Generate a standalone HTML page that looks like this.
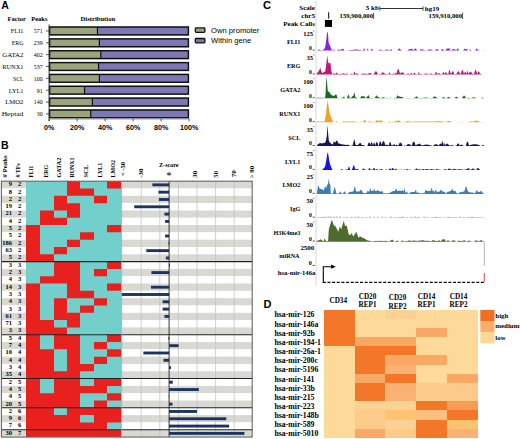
<!DOCTYPE html>
<html><head><meta charset="utf-8"><style>
html,body{margin:0;padding:0;background:#fff;width:520px;height:439px;overflow:hidden}
svg{display:block}

</style></head><body>
<svg width="520" height="439" viewBox="0 0 520 439">
<rect width="520" height="439" fill="#fff"/>
<text x="1.30" y="9.20" font-size="10.5" text-anchor="start" font-weight="bold" font-family="'Liberation Sans', sans-serif" fill="#000" >A</text><text x="7.60" y="21.00" font-size="6.5" text-anchor="start" font-weight="bold" font-family="'Liberation Serif', serif" fill="#000" >Factor</text><text x="31.20" y="21.00" font-size="6.5" text-anchor="start" font-weight="bold" font-family="'Liberation Serif', serif" fill="#000" >Peaks</text><text x="80.50" y="21.00" font-size="6.65" text-anchor="start" font-weight="bold" font-family="'Liberation Serif', serif" fill="#000" >Distribution</text><text x="23.40" y="33.25" font-size="6.6" text-anchor="end" font-weight="normal" font-family="'Liberation Serif', serif" fill="#000" textLength="12.55" lengthAdjust="spacingAndGlyphs">FLI1</text><text x="42.60" y="33.25" font-size="6.6" text-anchor="end" font-weight="normal" font-family="'Liberation Serif', serif" fill="#000" textLength="8.85" lengthAdjust="spacingAndGlyphs">571</text><line x1="46.00" y1="30.95" x2="49.00" y2="30.95" stroke="#333" stroke-width="0.8" /><rect x="49.00" y="26.45" width="48.44" height="9.00" fill="#9ca47d" /><rect x="97.44" y="26.45" width="91.56" height="9.00" fill="#7b78b3" /><rect x="49.60" y="27.05" width="138.80" height="7.8" fill="none" stroke="#111" stroke-width="1.45"/><line x1="97.44" y1="27.05" x2="97.44" y2="34.85" stroke="#111" stroke-width="1.2" /><text x="23.40" y="45.10" font-size="6.6" text-anchor="end" font-weight="normal" font-family="'Liberation Serif', serif" fill="#000" textLength="11.70" lengthAdjust="spacingAndGlyphs">ERG</text><text x="42.60" y="45.10" font-size="6.6" text-anchor="end" font-weight="normal" font-family="'Liberation Serif', serif" fill="#000" textLength="8.85" lengthAdjust="spacingAndGlyphs">239</text><line x1="46.00" y1="42.80" x2="49.00" y2="42.80" stroke="#333" stroke-width="0.8" /><rect x="49.00" y="38.30" width="50.40" height="9.00" fill="#9ca47d" /><rect x="99.40" y="38.30" width="89.60" height="9.00" fill="#7b78b3" /><rect x="49.60" y="38.90" width="138.80" height="7.8" fill="none" stroke="#111" stroke-width="1.45"/><line x1="99.40" y1="38.90" x2="99.40" y2="46.70" stroke="#111" stroke-width="1.2" /><text x="23.40" y="56.95" font-size="6.6" text-anchor="end" font-weight="normal" font-family="'Liberation Serif', serif" fill="#000" textLength="21.10" lengthAdjust="spacingAndGlyphs">GATA2</text><text x="42.60" y="56.95" font-size="6.6" text-anchor="end" font-weight="normal" font-family="'Liberation Serif', serif" fill="#000" textLength="8.85" lengthAdjust="spacingAndGlyphs">402</text><line x1="46.00" y1="54.65" x2="49.00" y2="54.65" stroke="#333" stroke-width="0.8" /><rect x="49.00" y="50.15" width="51.80" height="9.00" fill="#9ca47d" /><rect x="100.80" y="50.15" width="88.20" height="9.00" fill="#7b78b3" /><rect x="49.60" y="50.75" width="138.80" height="7.8" fill="none" stroke="#111" stroke-width="1.45"/><line x1="100.80" y1="50.75" x2="100.80" y2="58.55" stroke="#111" stroke-width="1.2" /><text x="23.40" y="68.80" font-size="6.6" text-anchor="end" font-weight="normal" font-family="'Liberation Serif', serif" fill="#000" textLength="21.10" lengthAdjust="spacingAndGlyphs">RUNX1</text><text x="42.60" y="68.80" font-size="6.6" text-anchor="end" font-weight="normal" font-family="'Liberation Serif', serif" fill="#000" textLength="8.85" lengthAdjust="spacingAndGlyphs">537</text><line x1="46.00" y1="66.50" x2="49.00" y2="66.50" stroke="#333" stroke-width="0.8" /><rect x="49.00" y="62.00" width="49.56" height="9.00" fill="#9ca47d" /><rect x="98.56" y="62.00" width="90.44" height="9.00" fill="#7b78b3" /><rect x="49.60" y="62.60" width="138.80" height="7.8" fill="none" stroke="#111" stroke-width="1.45"/><line x1="98.56" y1="62.60" x2="98.56" y2="70.40" stroke="#111" stroke-width="1.2" /><text x="23.40" y="80.65" font-size="6.6" text-anchor="end" font-weight="normal" font-family="'Liberation Serif', serif" fill="#000" textLength="10.40" lengthAdjust="spacingAndGlyphs">SCL</text><text x="42.60" y="80.65" font-size="6.6" text-anchor="end" font-weight="normal" font-family="'Liberation Serif', serif" fill="#000" textLength="8.85" lengthAdjust="spacingAndGlyphs">100</text><line x1="46.00" y1="78.35" x2="49.00" y2="78.35" stroke="#333" stroke-width="0.8" /><rect x="49.00" y="73.85" width="50.40" height="9.00" fill="#9ca47d" /><rect x="99.40" y="73.85" width="89.60" height="9.00" fill="#7b78b3" /><rect x="49.60" y="74.45" width="138.80" height="7.8" fill="none" stroke="#111" stroke-width="1.45"/><line x1="99.40" y1="74.45" x2="99.40" y2="82.25" stroke="#111" stroke-width="1.2" /><text x="23.40" y="92.50" font-size="6.6" text-anchor="end" font-weight="normal" font-family="'Liberation Serif', serif" fill="#000" textLength="14.70" lengthAdjust="spacingAndGlyphs">LYL1</text><text x="42.60" y="92.50" font-size="6.6" text-anchor="end" font-weight="normal" font-family="'Liberation Serif', serif" fill="#000" textLength="5.90" lengthAdjust="spacingAndGlyphs">91</text><line x1="46.00" y1="90.20" x2="49.00" y2="90.20" stroke="#333" stroke-width="0.8" /><rect x="49.00" y="85.70" width="35.56" height="9.00" fill="#9ca47d" /><rect x="84.56" y="85.70" width="104.44" height="9.00" fill="#7b78b3" /><rect x="49.60" y="86.30" width="138.80" height="7.8" fill="none" stroke="#111" stroke-width="1.45"/><line x1="84.56" y1="86.30" x2="84.56" y2="94.10" stroke="#111" stroke-width="1.2" /><text x="23.40" y="104.35" font-size="6.6" text-anchor="end" font-weight="normal" font-family="'Liberation Serif', serif" fill="#000" textLength="18.10" lengthAdjust="spacingAndGlyphs">LMO2</text><text x="42.60" y="104.35" font-size="6.6" text-anchor="end" font-weight="normal" font-family="'Liberation Serif', serif" fill="#000" textLength="8.85" lengthAdjust="spacingAndGlyphs">140</text><line x1="46.00" y1="102.05" x2="49.00" y2="102.05" stroke="#333" stroke-width="0.8" /><rect x="49.00" y="97.55" width="43.40" height="9.00" fill="#9ca47d" /><rect x="92.40" y="97.55" width="96.60" height="9.00" fill="#7b78b3" /><rect x="49.60" y="98.15" width="138.80" height="7.8" fill="none" stroke="#111" stroke-width="1.45"/><line x1="92.40" y1="98.15" x2="92.40" y2="105.95" stroke="#111" stroke-width="1.2" /><text x="23.40" y="116.20" font-size="6.6" text-anchor="end" font-weight="normal" font-family="'Liberation Serif', serif" fill="#000" textLength="21.70" lengthAdjust="spacingAndGlyphs">Heptad</text><text x="42.60" y="116.20" font-size="6.6" text-anchor="end" font-weight="normal" font-family="'Liberation Serif', serif" fill="#000" textLength="5.90" lengthAdjust="spacingAndGlyphs">30</text><line x1="46.00" y1="113.90" x2="49.00" y2="113.90" stroke="#333" stroke-width="0.8" /><rect x="49.00" y="109.40" width="41.72" height="9.00" fill="#9ca47d" /><rect x="90.72" y="109.40" width="98.28" height="9.00" fill="#7b78b3" /><rect x="49.60" y="110.00" width="138.80" height="7.8" fill="none" stroke="#111" stroke-width="1.45"/><line x1="90.72" y1="110.00" x2="90.72" y2="117.80" stroke="#111" stroke-width="1.2" /><line x1="49.10" y1="24.50" x2="49.10" y2="121.00" stroke="#333" stroke-width="1.0" /><line x1="49.10" y1="118.80" x2="189.00" y2="118.80" stroke="#999" stroke-width="1.3" /><line x1="49.10" y1="118.80" x2="49.10" y2="121.30" stroke="#444" stroke-width="0.9" /><text x="49.10" y="129.60" font-size="7.2" text-anchor="middle" font-weight="bold" font-family="'Liberation Sans', sans-serif" fill="#000" >0%</text><line x1="77.10" y1="118.80" x2="77.10" y2="121.30" stroke="#444" stroke-width="0.9" /><text x="77.10" y="129.60" font-size="7.2" text-anchor="middle" font-weight="bold" font-family="'Liberation Sans', sans-serif" fill="#000" >20%</text><line x1="105.10" y1="118.80" x2="105.10" y2="121.30" stroke="#444" stroke-width="0.9" /><text x="105.10" y="129.60" font-size="7.2" text-anchor="middle" font-weight="bold" font-family="'Liberation Sans', sans-serif" fill="#000" >40%</text><line x1="133.10" y1="118.80" x2="133.10" y2="121.30" stroke="#444" stroke-width="0.9" /><text x="133.10" y="129.60" font-size="7.2" text-anchor="middle" font-weight="bold" font-family="'Liberation Sans', sans-serif" fill="#000" >60%</text><line x1="161.10" y1="118.80" x2="161.10" y2="121.30" stroke="#444" stroke-width="0.9" /><text x="161.10" y="129.60" font-size="7.2" text-anchor="middle" font-weight="bold" font-family="'Liberation Sans', sans-serif" fill="#000" >80%</text><line x1="189.10" y1="118.80" x2="189.10" y2="121.30" stroke="#444" stroke-width="0.9" /><text x="189.10" y="129.60" font-size="7.2" text-anchor="middle" font-weight="bold" font-family="'Liberation Sans', sans-serif" fill="#000" >100%</text><rect x="195.30" y="27.90" width="9.60" height="4.40" fill="#9ca47d" stroke="#111" stroke-width="1.3" rx="0.8"/><rect x="195.30" y="38.50" width="9.60" height="4.40" fill="#7b78b3" stroke="#111" stroke-width="1.3" rx="0.8"/><text x="211.00" y="33.10" font-size="7.65" text-anchor="start" font-weight="normal" font-family="'Liberation Sans', sans-serif" fill="#000" >Own promoter</text><text x="211.00" y="42.90" font-size="7.65" text-anchor="start" font-weight="normal" font-family="'Liberation Sans', sans-serif" fill="#000" >Within gene</text><text x="1.00" y="148.70" font-size="10.6" text-anchor="start" font-weight="bold" font-family="'Liberation Sans', sans-serif" fill="#000" >B</text><rect x="1.50" y="181.20" width="24.60" height="7.31" fill="#d9d9d3" /><rect x="121.60" y="181.20" width="130.60" height="7.31" fill="#d9d9d3" /><text x="12.00" y="186.25" font-size="6.5" text-anchor="end" font-weight="bold" font-family="'Liberation Serif', serif" fill="#000" >9</text><text x="19.50" y="186.25" font-size="6.5" text-anchor="middle" font-weight="bold" font-family="'Liberation Serif', serif" fill="#000" >2</text><rect x="1.50" y="188.51" width="24.60" height="7.31" fill="#ffffff" /><rect x="121.60" y="188.51" width="130.60" height="7.31" fill="#ffffff" /><text x="12.00" y="193.56" font-size="6.5" text-anchor="end" font-weight="bold" font-family="'Liberation Serif', serif" fill="#000" >8</text><text x="19.50" y="193.56" font-size="6.5" text-anchor="middle" font-weight="bold" font-family="'Liberation Serif', serif" fill="#000" >2</text><rect x="1.50" y="195.82" width="24.60" height="7.31" fill="#d9d9d3" /><rect x="121.60" y="195.82" width="130.60" height="7.31" fill="#d9d9d3" /><text x="12.00" y="200.87" font-size="6.5" text-anchor="end" font-weight="bold" font-family="'Liberation Serif', serif" fill="#000" >2</text><text x="19.50" y="200.87" font-size="6.5" text-anchor="middle" font-weight="bold" font-family="'Liberation Serif', serif" fill="#000" >2</text><rect x="1.50" y="203.13" width="24.60" height="7.31" fill="#ffffff" /><rect x="121.60" y="203.13" width="130.60" height="7.31" fill="#ffffff" /><text x="12.00" y="208.18" font-size="6.5" text-anchor="end" font-weight="bold" font-family="'Liberation Serif', serif" fill="#000" >19</text><text x="19.50" y="208.18" font-size="6.5" text-anchor="middle" font-weight="bold" font-family="'Liberation Serif', serif" fill="#000" >2</text><rect x="1.50" y="210.44" width="24.60" height="7.31" fill="#d9d9d3" /><rect x="121.60" y="210.44" width="130.60" height="7.31" fill="#d9d9d3" /><text x="12.00" y="215.49" font-size="6.5" text-anchor="end" font-weight="bold" font-family="'Liberation Serif', serif" fill="#000" >21</text><text x="19.50" y="215.49" font-size="6.5" text-anchor="middle" font-weight="bold" font-family="'Liberation Serif', serif" fill="#000" >2</text><rect x="1.50" y="217.75" width="24.60" height="7.31" fill="#ffffff" /><rect x="121.60" y="217.75" width="130.60" height="7.31" fill="#ffffff" /><text x="12.00" y="222.80" font-size="6.5" text-anchor="end" font-weight="bold" font-family="'Liberation Serif', serif" fill="#000" >4</text><text x="19.50" y="222.80" font-size="6.5" text-anchor="middle" font-weight="bold" font-family="'Liberation Serif', serif" fill="#000" >2</text><rect x="1.50" y="225.06" width="24.60" height="7.31" fill="#d9d9d3" /><rect x="121.60" y="225.06" width="130.60" height="7.31" fill="#d9d9d3" /><text x="12.00" y="230.11" font-size="6.5" text-anchor="end" font-weight="bold" font-family="'Liberation Serif', serif" fill="#000" >5</text><text x="19.50" y="230.11" font-size="6.5" text-anchor="middle" font-weight="bold" font-family="'Liberation Serif', serif" fill="#000" >2</text><rect x="1.50" y="232.37" width="24.60" height="7.31" fill="#ffffff" /><rect x="121.60" y="232.37" width="130.60" height="7.31" fill="#ffffff" /><text x="12.00" y="237.42" font-size="6.5" text-anchor="end" font-weight="bold" font-family="'Liberation Serif', serif" fill="#000" >5</text><text x="19.50" y="237.42" font-size="6.5" text-anchor="middle" font-weight="bold" font-family="'Liberation Serif', serif" fill="#000" >2</text><rect x="1.50" y="239.68" width="24.60" height="7.31" fill="#d9d9d3" /><rect x="121.60" y="239.68" width="130.60" height="7.31" fill="#d9d9d3" /><text x="12.00" y="244.73" font-size="6.5" text-anchor="end" font-weight="bold" font-family="'Liberation Serif', serif" fill="#000" >186</text><text x="19.50" y="244.73" font-size="6.5" text-anchor="middle" font-weight="bold" font-family="'Liberation Serif', serif" fill="#000" >2</text><rect x="1.50" y="246.99" width="24.60" height="7.31" fill="#ffffff" /><rect x="121.60" y="246.99" width="130.60" height="7.31" fill="#ffffff" /><text x="12.00" y="252.04" font-size="6.5" text-anchor="end" font-weight="bold" font-family="'Liberation Serif', serif" fill="#000" >63</text><text x="19.50" y="252.04" font-size="6.5" text-anchor="middle" font-weight="bold" font-family="'Liberation Serif', serif" fill="#000" >2</text><rect x="1.50" y="254.30" width="24.60" height="7.31" fill="#d9d9d3" /><rect x="121.60" y="254.30" width="130.60" height="7.31" fill="#d9d9d3" /><text x="12.00" y="259.35" font-size="6.5" text-anchor="end" font-weight="bold" font-family="'Liberation Serif', serif" fill="#000" >5</text><text x="19.50" y="259.35" font-size="6.5" text-anchor="middle" font-weight="bold" font-family="'Liberation Serif', serif" fill="#000" >2</text><rect x="1.50" y="261.61" width="24.60" height="7.31" fill="#ffffff" /><rect x="121.60" y="261.61" width="130.60" height="7.31" fill="#ffffff" /><text x="12.00" y="266.66" font-size="6.5" text-anchor="end" font-weight="bold" font-family="'Liberation Serif', serif" fill="#000" >3</text><text x="19.50" y="266.66" font-size="6.5" text-anchor="middle" font-weight="bold" font-family="'Liberation Serif', serif" fill="#000" >3</text><rect x="1.50" y="268.92" width="24.60" height="7.31" fill="#d9d9d3" /><rect x="121.60" y="268.92" width="130.60" height="7.31" fill="#d9d9d3" /><text x="12.00" y="273.97" font-size="6.5" text-anchor="end" font-weight="bold" font-family="'Liberation Serif', serif" fill="#000" >2</text><text x="19.50" y="273.97" font-size="6.5" text-anchor="middle" font-weight="bold" font-family="'Liberation Serif', serif" fill="#000" >3</text><rect x="1.50" y="276.23" width="24.60" height="7.31" fill="#ffffff" /><rect x="121.60" y="276.23" width="130.60" height="7.31" fill="#ffffff" /><text x="12.00" y="281.28" font-size="6.5" text-anchor="end" font-weight="bold" font-family="'Liberation Serif', serif" fill="#000" >4</text><text x="19.50" y="281.28" font-size="6.5" text-anchor="middle" font-weight="bold" font-family="'Liberation Serif', serif" fill="#000" >3</text><rect x="1.50" y="283.54" width="24.60" height="7.31" fill="#d9d9d3" /><rect x="121.60" y="283.54" width="130.60" height="7.31" fill="#d9d9d3" /><text x="12.00" y="288.59" font-size="6.5" text-anchor="end" font-weight="bold" font-family="'Liberation Serif', serif" fill="#000" >14</text><text x="19.50" y="288.59" font-size="6.5" text-anchor="middle" font-weight="bold" font-family="'Liberation Serif', serif" fill="#000" >3</text><rect x="1.50" y="290.85" width="24.60" height="7.31" fill="#ffffff" /><rect x="121.60" y="290.85" width="130.60" height="7.31" fill="#ffffff" /><text x="12.00" y="295.90" font-size="6.5" text-anchor="end" font-weight="bold" font-family="'Liberation Serif', serif" fill="#000" >3</text><text x="19.50" y="295.90" font-size="6.5" text-anchor="middle" font-weight="bold" font-family="'Liberation Serif', serif" fill="#000" >3</text><rect x="1.50" y="298.16" width="24.60" height="7.31" fill="#d9d9d3" /><rect x="121.60" y="298.16" width="130.60" height="7.31" fill="#d9d9d3" /><text x="12.00" y="303.21" font-size="6.5" text-anchor="end" font-weight="bold" font-family="'Liberation Serif', serif" fill="#000" >4</text><text x="19.50" y="303.21" font-size="6.5" text-anchor="middle" font-weight="bold" font-family="'Liberation Serif', serif" fill="#000" >3</text><rect x="1.50" y="305.47" width="24.60" height="7.31" fill="#ffffff" /><rect x="121.60" y="305.47" width="130.60" height="7.31" fill="#ffffff" /><text x="12.00" y="310.52" font-size="6.5" text-anchor="end" font-weight="bold" font-family="'Liberation Serif', serif" fill="#000" >3</text><text x="19.50" y="310.52" font-size="6.5" text-anchor="middle" font-weight="bold" font-family="'Liberation Serif', serif" fill="#000" >3</text><rect x="1.50" y="312.78" width="24.60" height="7.31" fill="#d9d9d3" /><rect x="121.60" y="312.78" width="130.60" height="7.31" fill="#d9d9d3" /><text x="12.00" y="317.83" font-size="6.5" text-anchor="end" font-weight="bold" font-family="'Liberation Serif', serif" fill="#000" >61</text><text x="19.50" y="317.83" font-size="6.5" text-anchor="middle" font-weight="bold" font-family="'Liberation Serif', serif" fill="#000" >3</text><rect x="1.50" y="320.09" width="24.60" height="7.31" fill="#ffffff" /><rect x="121.60" y="320.09" width="130.60" height="7.31" fill="#ffffff" /><text x="12.00" y="325.14" font-size="6.5" text-anchor="end" font-weight="bold" font-family="'Liberation Serif', serif" fill="#000" >71</text><text x="19.50" y="325.14" font-size="6.5" text-anchor="middle" font-weight="bold" font-family="'Liberation Serif', serif" fill="#000" >3</text><rect x="1.50" y="327.40" width="24.60" height="7.31" fill="#d9d9d3" /><rect x="121.60" y="327.40" width="130.60" height="7.31" fill="#d9d9d3" /><text x="12.00" y="332.45" font-size="6.5" text-anchor="end" font-weight="bold" font-family="'Liberation Serif', serif" fill="#000" >3</text><text x="19.50" y="332.45" font-size="6.5" text-anchor="middle" font-weight="bold" font-family="'Liberation Serif', serif" fill="#000" >3</text><rect x="1.50" y="334.71" width="24.60" height="7.31" fill="#ffffff" /><rect x="121.60" y="334.71" width="130.60" height="7.31" fill="#ffffff" /><text x="12.00" y="339.76" font-size="6.5" text-anchor="end" font-weight="bold" font-family="'Liberation Serif', serif" fill="#000" >5</text><text x="19.50" y="339.76" font-size="6.5" text-anchor="middle" font-weight="bold" font-family="'Liberation Serif', serif" fill="#000" >4</text><rect x="1.50" y="342.02" width="24.60" height="7.31" fill="#d9d9d3" /><rect x="121.60" y="342.02" width="130.60" height="7.31" fill="#d9d9d3" /><text x="12.00" y="347.07" font-size="6.5" text-anchor="end" font-weight="bold" font-family="'Liberation Serif', serif" fill="#000" >7</text><text x="19.50" y="347.07" font-size="6.5" text-anchor="middle" font-weight="bold" font-family="'Liberation Serif', serif" fill="#000" >4</text><rect x="1.50" y="349.33" width="24.60" height="7.31" fill="#ffffff" /><rect x="121.60" y="349.33" width="130.60" height="7.31" fill="#ffffff" /><text x="12.00" y="354.38" font-size="6.5" text-anchor="end" font-weight="bold" font-family="'Liberation Serif', serif" fill="#000" >10</text><text x="19.50" y="354.38" font-size="6.5" text-anchor="middle" font-weight="bold" font-family="'Liberation Serif', serif" fill="#000" >4</text><rect x="1.50" y="356.64" width="24.60" height="7.31" fill="#d9d9d3" /><rect x="121.60" y="356.64" width="130.60" height="7.31" fill="#d9d9d3" /><text x="12.00" y="361.69" font-size="6.5" text-anchor="end" font-weight="bold" font-family="'Liberation Serif', serif" fill="#000" >4</text><text x="19.50" y="361.69" font-size="6.5" text-anchor="middle" font-weight="bold" font-family="'Liberation Serif', serif" fill="#000" >4</text><rect x="1.50" y="363.95" width="24.60" height="7.31" fill="#ffffff" /><rect x="121.60" y="363.95" width="130.60" height="7.31" fill="#ffffff" /><text x="12.00" y="369.00" font-size="6.5" text-anchor="end" font-weight="bold" font-family="'Liberation Serif', serif" fill="#000" >3</text><text x="19.50" y="369.00" font-size="6.5" text-anchor="middle" font-weight="bold" font-family="'Liberation Serif', serif" fill="#000" >4</text><rect x="1.50" y="371.26" width="24.60" height="7.31" fill="#d9d9d3" /><rect x="121.60" y="371.26" width="130.60" height="7.31" fill="#d9d9d3" /><text x="12.00" y="376.31" font-size="6.5" text-anchor="end" font-weight="bold" font-family="'Liberation Serif', serif" fill="#000" >35</text><text x="19.50" y="376.31" font-size="6.5" text-anchor="middle" font-weight="bold" font-family="'Liberation Serif', serif" fill="#000" >4</text><rect x="1.50" y="378.57" width="24.60" height="7.31" fill="#ffffff" /><rect x="121.60" y="378.57" width="130.60" height="7.31" fill="#ffffff" /><text x="12.00" y="383.62" font-size="6.5" text-anchor="end" font-weight="bold" font-family="'Liberation Serif', serif" fill="#000" >2</text><text x="19.50" y="383.62" font-size="6.5" text-anchor="middle" font-weight="bold" font-family="'Liberation Serif', serif" fill="#000" >5</text><rect x="1.50" y="385.88" width="24.60" height="7.31" fill="#d9d9d3" /><rect x="121.60" y="385.88" width="130.60" height="7.31" fill="#d9d9d3" /><text x="12.00" y="390.93" font-size="6.5" text-anchor="end" font-weight="bold" font-family="'Liberation Serif', serif" fill="#000" >4</text><text x="19.50" y="390.93" font-size="6.5" text-anchor="middle" font-weight="bold" font-family="'Liberation Serif', serif" fill="#000" >5</text><rect x="1.50" y="393.19" width="24.60" height="7.31" fill="#ffffff" /><rect x="121.60" y="393.19" width="130.60" height="7.31" fill="#ffffff" /><text x="12.00" y="398.24" font-size="6.5" text-anchor="end" font-weight="bold" font-family="'Liberation Serif', serif" fill="#000" >4</text><text x="19.50" y="398.24" font-size="6.5" text-anchor="middle" font-weight="bold" font-family="'Liberation Serif', serif" fill="#000" >5</text><rect x="1.50" y="400.50" width="24.60" height="7.31" fill="#d9d9d3" /><rect x="121.60" y="400.50" width="130.60" height="7.31" fill="#d9d9d3" /><text x="12.00" y="405.55" font-size="6.5" text-anchor="end" font-weight="bold" font-family="'Liberation Serif', serif" fill="#000" >20</text><text x="19.50" y="405.55" font-size="6.5" text-anchor="middle" font-weight="bold" font-family="'Liberation Serif', serif" fill="#000" >5</text><rect x="1.50" y="407.81" width="24.60" height="7.31" fill="#ffffff" /><rect x="121.60" y="407.81" width="130.60" height="7.31" fill="#ffffff" /><text x="12.00" y="412.86" font-size="6.5" text-anchor="end" font-weight="bold" font-family="'Liberation Serif', serif" fill="#000" >2</text><text x="19.50" y="412.86" font-size="6.5" text-anchor="middle" font-weight="bold" font-family="'Liberation Serif', serif" fill="#000" >6</text><rect x="1.50" y="415.12" width="24.60" height="7.31" fill="#d9d9d3" /><rect x="121.60" y="415.12" width="130.60" height="7.31" fill="#d9d9d3" /><text x="12.00" y="420.17" font-size="6.5" text-anchor="end" font-weight="bold" font-family="'Liberation Serif', serif" fill="#000" >9</text><text x="19.50" y="420.17" font-size="6.5" text-anchor="middle" font-weight="bold" font-family="'Liberation Serif', serif" fill="#000" >6</text><rect x="1.50" y="422.43" width="24.60" height="7.31" fill="#ffffff" /><rect x="121.60" y="422.43" width="130.60" height="7.31" fill="#ffffff" /><text x="12.00" y="427.48" font-size="6.5" text-anchor="end" font-weight="bold" font-family="'Liberation Serif', serif" fill="#000" >7</text><text x="19.50" y="427.48" font-size="6.5" text-anchor="middle" font-weight="bold" font-family="'Liberation Serif', serif" fill="#000" >6</text><rect x="1.50" y="429.74" width="24.60" height="7.31" fill="#d9d9d3" /><rect x="121.60" y="429.74" width="130.60" height="7.31" fill="#d9d9d3" /><text x="12.00" y="434.79" font-size="6.5" text-anchor="end" font-weight="bold" font-family="'Liberation Serif', serif" fill="#000" >30</text><text x="19.50" y="434.79" font-size="6.5" text-anchor="middle" font-weight="bold" font-family="'Liberation Serif', serif" fill="#000" >7</text><rect x="26.00" y="181.20" width="95.00" height="255.85" fill="#72cfcb" /><path d="M67,181.20H80V188.51H67ZM107,181.20H121V188.51H107ZM67,188.51H80V195.82H67ZM80,188.51H94V195.82H80ZM54,195.82H67V203.13H54ZM94,195.82H107V203.13H94ZM54,203.13H67V210.44H54ZM67,203.13H80V210.44H67ZM40,210.44H54V217.75H40ZM67,210.44H80V217.75H67ZM40,217.75H54V225.06H40ZM54,217.75H67V225.06H54ZM26,225.06H40V232.37H26ZM107,225.06H121V232.37H107ZM26,232.37H40V239.68H26ZM80,232.37H94V239.68H80ZM26,239.68H40V246.99H26ZM67,239.68H80V246.99H67ZM26,246.99H40V254.30H26ZM54,246.99H67V254.30H54ZM26,254.30H40V261.61H26ZM40,254.30H54V261.61H40ZM54,261.61H67V268.92H54ZM67,261.61H80V268.92H67ZM107,261.61H121V268.92H107ZM54,268.92H67V276.23H54ZM67,268.92H80V276.23H67ZM94,268.92H107V276.23H94ZM40,276.23H54V283.54H40ZM54,276.23H67V283.54H54ZM67,276.23H80V283.54H67ZM26,283.54H40V290.85H26ZM67,283.54H80V290.85H67ZM107,283.54H121V290.85H107ZM26,290.85H40V298.16H26ZM67,290.85H80V298.16H67ZM80,290.85H94V298.16H80ZM26,298.16H40V305.47H26ZM54,298.16H67V305.47H54ZM94,298.16H107V305.47H94ZM26,305.47H40V312.78H26ZM54,305.47H67V312.78H54ZM80,305.47H94V312.78H80ZM26,312.78H40V320.09H26ZM54,312.78H67V320.09H54ZM67,312.78H80V320.09H67ZM26,320.09H40V327.40H26ZM40,320.09H54V327.40H40ZM67,320.09H80V327.40H67ZM26,327.40H40V334.71H26ZM40,327.40H54V334.71H40ZM54,327.40H67V334.71H54ZM26,334.71H40V342.02H26ZM54,334.71H67V342.02H54ZM67,334.71H80V342.02H67ZM107,334.71H121V342.02H107ZM26,342.02H40V349.33H26ZM54,342.02H67V349.33H54ZM67,342.02H80V349.33H67ZM94,342.02H107V349.33H94ZM26,349.33H40V356.64H26ZM40,349.33H54V356.64H40ZM67,349.33H80V356.64H67ZM107,349.33H121V356.64H107ZM26,356.64H40V363.95H26ZM40,356.64H54V363.95H40ZM67,356.64H80V363.95H67ZM94,356.64H107V363.95H94ZM26,363.95H40V371.26H26ZM40,363.95H54V371.26H40ZM67,363.95H80V371.26H67ZM80,363.95H94V371.26H80ZM26,371.26H40V378.57H26ZM40,371.26H54V378.57H40ZM54,371.26H67V378.57H54ZM67,371.26H80V378.57H67ZM26,378.57H40V385.88H26ZM54,378.57H67V385.88H54ZM67,378.57H80V385.88H67ZM94,378.57H107V385.88H94ZM107,378.57H121V385.88H107ZM26,385.88H40V393.19H26ZM54,385.88H67V393.19H54ZM67,385.88H80V393.19H67ZM80,385.88H94V393.19H80ZM94,385.88H107V393.19H94ZM26,393.19H40V400.50H26ZM40,393.19H54V400.50H40ZM54,393.19H67V400.50H54ZM67,393.19H80V400.50H67ZM107,393.19H121V400.50H107ZM26,400.50H40V407.81H26ZM40,400.50H54V407.81H40ZM54,400.50H67V407.81H54ZM67,400.50H80V407.81H67ZM94,400.50H107V407.81H94ZM26,407.81H40V415.12H26ZM40,407.81H54V415.12H40ZM67,407.81H80V415.12H67ZM80,407.81H94V415.12H80ZM94,407.81H107V415.12H94ZM107,407.81H121V415.12H107ZM26,415.12H40V422.43H26ZM40,415.12H54V422.43H40ZM54,415.12H67V422.43H54ZM67,415.12H80V422.43H67ZM94,415.12H107V422.43H94ZM107,415.12H121V422.43H107ZM26,422.43H40V429.74H26ZM40,422.43H54V429.74H40ZM54,422.43H67V429.74H54ZM67,422.43H80V429.74H67ZM80,422.43H94V429.74H80ZM94,422.43H107V429.74H94ZM26,429.74H40V437.05H26ZM40,429.74H54V437.05H40ZM54,429.74H67V437.05H54ZM67,429.74H80V437.05H67ZM80,429.74H94V437.05H80ZM94,429.74H107V437.05H94ZM107,429.74H121V437.05H107Z" fill="#e8201e"/><line x1="141.20" y1="181.20" x2="141.20" y2="437.05" stroke="#c4c4c4" stroke-width="0.8" /><line x1="159.80" y1="181.20" x2="159.80" y2="437.05" stroke="#c4c4c4" stroke-width="0.8" /><line x1="178.40" y1="181.20" x2="178.40" y2="437.05" stroke="#c4c4c4" stroke-width="0.8" /><line x1="197.00" y1="181.20" x2="197.00" y2="437.05" stroke="#c4c4c4" stroke-width="0.8" /><line x1="215.60" y1="181.20" x2="215.60" y2="437.05" stroke="#c4c4c4" stroke-width="0.8" /><line x1="234.20" y1="181.20" x2="234.20" y2="437.05" stroke="#c4c4c4" stroke-width="0.8" /><rect x="152.36" y="183.41" width="16.74" height="2.90" fill="#1c3560" /><rect x="158.41" y="190.72" width="10.69" height="2.90" fill="#1c3560" /><rect x="158.96" y="198.03" width="10.14" height="2.90" fill="#1c3560" /><rect x="134.22" y="205.34" width="34.88" height="2.90" fill="#1c3560" /><rect x="164.45" y="212.65" width="4.65" height="2.90" fill="#1c3560" /><rect x="165.10" y="219.96" width="4.00" height="2.90" fill="#1c3560" /><rect x="165.10" y="234.57" width="4.00" height="2.90" fill="#1c3560" /><rect x="168.54" y="241.88" width="0.56" height="2.90" fill="#1c3560" /><rect x="146.31" y="249.19" width="22.78" height="2.90" fill="#1c3560" /><rect x="165.84" y="256.50" width="3.25" height="2.90" fill="#1c3560" /><rect x="169.10" y="263.81" width="0.93" height="2.90" fill="#1c3560" /><rect x="151.43" y="271.12" width="17.67" height="2.90" fill="#1c3560" /><rect x="150.97" y="285.74" width="18.13" height="2.90" fill="#1c3560" /><rect x="121.60" y="293.05" width="47.50" height="2.90" fill="#1c3560" /><rect x="162.59" y="300.36" width="6.51" height="2.90" fill="#1c3560" /><rect x="162.59" y="307.67" width="6.51" height="2.90" fill="#1c3560" /><rect x="164.45" y="314.98" width="4.65" height="2.90" fill="#1c3560" /><rect x="168.36" y="336.91" width="0.74" height="2.90" fill="#1c3560" /><rect x="169.10" y="344.22" width="9.49" height="2.90" fill="#1c3560" /><rect x="143.34" y="351.53" width="25.76" height="2.90" fill="#1c3560" /><rect x="163.52" y="358.84" width="5.58" height="2.90" fill="#1c3560" /><rect x="169.10" y="366.15" width="1.86" height="2.90" fill="#1c3560" /><rect x="169.10" y="380.77" width="3.72" height="2.90" fill="#1c3560" /><rect x="169.10" y="388.08" width="29.76" height="2.90" fill="#1c3560" /><rect x="168.73" y="395.39" width="0.37" height="2.90" fill="#1c3560" /><rect x="169.10" y="402.70" width="3.35" height="2.90" fill="#1c3560" /><rect x="169.10" y="410.01" width="27.90" height="2.90" fill="#1c3560" /><rect x="169.10" y="417.32" width="57.19" height="2.90" fill="#1c3560" /><rect x="169.10" y="424.63" width="60.08" height="2.90" fill="#1c3560" /><rect x="169.10" y="431.94" width="75.33" height="2.90" fill="#1c3560" /><line x1="169.10" y1="181.20" x2="169.10" y2="437.05" stroke="#222" stroke-width="0.9" /><line x1="1.20" y1="261.61" x2="252.20" y2="261.61" stroke="#222" stroke-width="1.1" /><line x1="1.20" y1="334.71" x2="252.20" y2="334.71" stroke="#222" stroke-width="1.1" /><line x1="1.20" y1="378.57" x2="252.20" y2="378.57" stroke="#222" stroke-width="1.1" /><line x1="1.20" y1="407.81" x2="252.20" y2="407.81" stroke="#222" stroke-width="1.1" /><line x1="1.20" y1="429.74" x2="252.20" y2="429.74" stroke="#222" stroke-width="1.1" /><rect x="1.4" y="181.20" width="250.80" height="255.85" fill="none" stroke="#666" stroke-width="1.1"/><line x1="121.60" y1="181.20" x2="121.60" y2="437.05" stroke="#999" stroke-width="0.8" /><text transform="translate(7.40,177.60) rotate(-90)" font-size="6.2" font-weight="bold" font-family="'Liberation Serif', serif" textLength="22.30" lengthAdjust="spacingAndGlyphs"># Peaks</text><text transform="translate(19.70,177.60) rotate(-90)" font-size="6.0" font-weight="bold" font-family="'Liberation Serif', serif" textLength="14.20" lengthAdjust="spacingAndGlyphs"># TFs</text><text transform="translate(32.80,177.60) rotate(-90)" font-size="5.9" font-weight="bold" font-family="'Liberation Serif', serif" textLength="11.90" lengthAdjust="spacingAndGlyphs">FLI1</text><text transform="translate(47.80,177.60) rotate(-90)" font-size="5.9" font-weight="bold" font-family="'Liberation Serif', serif" textLength="12.70" lengthAdjust="spacingAndGlyphs">ERG</text><text transform="translate(60.90,177.60) rotate(-90)" font-size="5.9" font-weight="bold" font-family="'Liberation Serif', serif" textLength="20.00" lengthAdjust="spacingAndGlyphs">GATA2</text><text transform="translate(73.90,177.60) rotate(-90)" font-size="5.9" font-weight="bold" font-family="'Liberation Serif', serif" textLength="20.00" lengthAdjust="spacingAndGlyphs">RUNX1</text><text transform="translate(88.20,177.60) rotate(-90)" font-size="5.9" font-weight="bold" font-family="'Liberation Serif', serif" textLength="12.70" lengthAdjust="spacingAndGlyphs">SCL</text><text transform="translate(102.00,177.60) rotate(-90)" font-size="5.9" font-weight="bold" font-family="'Liberation Serif', serif" textLength="15.00" lengthAdjust="spacingAndGlyphs">LYL1</text><text transform="translate(114.70,177.60) rotate(-90)" font-size="5.9" font-weight="bold" font-family="'Liberation Serif', serif" textLength="17.70" lengthAdjust="spacingAndGlyphs">LMO2</text><text transform="translate(125.10,176.10) rotate(-90)" font-size="6.45" font-weight="bold" font-family="'Liberation Serif', serif" textLength="14.20" lengthAdjust="spacingAndGlyphs">&lt; -50</text><text transform="translate(142.60,177.70) rotate(-90)" font-size="6.45" font-weight="bold" font-family="'Liberation Serif', serif" textLength="9.10" lengthAdjust="spacingAndGlyphs">-30</text><text transform="translate(171.20,175.60) rotate(-90)" font-size="6.45" font-weight="bold" font-family="'Liberation Serif', serif" textLength="3.30" lengthAdjust="spacingAndGlyphs">0</text><text transform="translate(197.40,177.80) rotate(-90)" font-size="6.45" font-weight="bold" font-family="'Liberation Serif', serif" textLength="6.90" lengthAdjust="spacingAndGlyphs">30</text><text transform="translate(217.90,177.70) rotate(-90)" font-size="6.45" font-weight="bold" font-family="'Liberation Serif', serif" textLength="6.70" lengthAdjust="spacingAndGlyphs">50</text><text transform="translate(236.40,177.30) rotate(-90)" font-size="6.45" font-weight="bold" font-family="'Liberation Serif', serif" textLength="7.30" lengthAdjust="spacingAndGlyphs">70</text><text transform="translate(253.90,178.30) rotate(-90)" font-size="6.45" font-weight="bold" font-family="'Liberation Serif', serif" textLength="12.60" lengthAdjust="spacingAndGlyphs">&gt; 90</text><text x="168.80" y="167.40" font-size="6.1" text-anchor="middle" font-weight="bold" font-family="'Liberation Serif', serif" fill="#000" >Z-score</text><text x="263.10" y="9.00" font-size="11.2" text-anchor="start" font-weight="bold" font-family="'Liberation Sans', sans-serif" fill="#000" >C</text><text x="314.90" y="10.10" font-size="7" text-anchor="end" font-weight="bold" font-family="'Liberation Serif', serif" fill="#000" >Scale</text><text x="314.90" y="18.20" font-size="7" text-anchor="end" font-weight="bold" font-family="'Liberation Serif', serif" fill="#000" >chr5</text><text x="315.00" y="25.60" font-size="7" text-anchor="end" font-weight="bold" font-family="'Liberation Serif', serif" fill="#000" >Peak Calls</text><text x="378.80" y="10.20" font-size="7" text-anchor="end" font-weight="bold" font-family="'Liberation Serif', serif" fill="#000" >5 kb</text><line x1="379.80" y1="6.30" x2="379.80" y2="10.70" stroke="#222" stroke-width="0.8" /><line x1="379.80" y1="8.50" x2="423.00" y2="8.50" stroke="#333" stroke-width="1.0" /><line x1="423.00" y1="6.30" x2="423.00" y2="10.70" stroke="#222" stroke-width="0.8" /><text x="424.80" y="10.60" font-size="7" text-anchor="start" font-weight="bold" font-family="'Liberation Serif', serif" fill="#000" >hg19</text><text x="373.00" y="18.10" font-size="6.7" text-anchor="end" font-weight="bold" font-family="'Liberation Serif', serif" fill="#000" >159,900,000</text><line x1="373.60" y1="12.80" x2="373.60" y2="19.00" stroke="#222" stroke-width="0.8" /><text x="462.00" y="18.30" font-size="6.7" text-anchor="end" font-weight="bold" font-family="'Liberation Serif', serif" fill="#000" >159,910,000</text><line x1="462.60" y1="12.80" x2="462.60" y2="19.00" stroke="#222" stroke-width="0.8" /><line x1="328.70" y1="12.30" x2="328.70" y2="18.70" stroke="#000" stroke-width="1.0" /><rect x="324.90" y="20.00" width="7.10" height="6.90" fill="#000" /><line x1="316.0" y1="1" x2="316.0" y2="286" stroke="#d4d4d4" stroke-width="0.9"/><path d="M316.40,50.60L316.40,50.60L316.90,50.60L317.40,50.60L317.90,50.12L318.40,49.76L318.90,49.62L319.25,49.60L319.40,49.60L319.90,49.68L320.40,49.95L320.90,50.35L321.40,50.31L321.90,50.27L322.30,50.29L322.40,50.31L322.80,50.10L322.90,50.02L323.40,49.60L323.90,49.18L324.40,48.77L324.60,48.60L324.90,47.60L325.40,45.93L325.50,45.60L325.90,42.49L326.40,38.60L326.90,34.60L327.30,31.40L327.40,31.71L327.90,33.29L328.00,33.60L328.40,39.60L328.60,42.60L328.90,43.27L329.40,44.38L329.50,44.60L329.90,45.49L330.40,46.60L330.90,47.99L331.30,49.10L331.40,49.22L331.90,49.85L332.10,50.10L332.40,50.26L332.60,50.24L332.90,50.22L333.40,50.19L333.90,49.80L334.35,49.60L334.40,49.60L334.90,49.94L335.40,50.38L335.90,50.49L336.40,50.60L336.90,50.60L337.40,50.12L337.90,49.76L338.40,49.62L338.75,49.60L338.90,49.60L339.40,49.68L339.90,49.95L340.40,50.03L340.90,49.53L341.40,49.24L341.90,49.12L342.30,49.10L342.40,49.10L342.90,48.64L343.05,48.60L343.40,48.90L343.90,49.71L344.40,50.29L344.90,50.60L345.40,50.60L345.90,50.60L346.40,50.60L346.90,50.60L347.40,50.54L347.90,50.40L348.40,50.26L348.90,50.18L349.40,50.14L349.90,50.10L350.40,50.06L350.90,50.05L351.40,50.08L351.90,50.00L352.40,49.89L352.90,49.80L353.40,49.73L353.90,49.68L354.40,49.64L354.90,49.62L355.40,49.61L355.90,49.60L356.15,49.60L356.40,49.60L356.90,49.61L357.40,49.62L357.90,49.64L358.40,49.68L358.90,49.73L359.40,49.80L359.90,49.89L360.40,50.00L360.90,50.12L361.40,50.27L361.90,50.45L362.40,50.59L362.90,50.60L363.40,49.66L363.90,48.68L364.20,48.30L364.40,48.52L364.90,49.44L365.40,50.48L365.90,50.48L366.40,50.52L366.90,50.56L367.40,48.90L367.75,48.60L367.90,48.64L368.40,50.00L368.90,50.60L369.40,50.58L369.90,50.49L370.40,50.40L370.90,50.31L371.40,49.13L371.90,48.30L372.40,49.13L372.90,50.33L373.40,50.58L373.90,50.55L374.40,50.49L374.90,50.50L375.40,50.55L375.90,50.60L376.40,50.60L376.90,50.60L377.40,50.60L377.90,50.52L378.40,50.39L378.90,50.15L379.40,49.80L379.90,49.64L380.40,49.60L380.90,49.64L381.40,49.80L381.90,50.15L382.40,50.17L382.90,50.17L383.40,50.18L383.90,50.18L384.40,50.20L384.90,50.22L385.40,49.94L385.90,49.72L386.40,49.62L386.90,49.60L387.40,49.62L387.90,49.72L388.40,49.94L388.90,50.31L389.40,50.23L389.90,50.34L390.40,49.75L390.90,49.33L391.15,49.30L391.40,49.33L391.90,49.75L392.40,50.49L392.90,50.47L393.40,50.46L393.90,50.46L394.40,50.46L394.90,50.50L395.40,50.54L395.90,50.59L396.40,50.60L396.90,50.60L397.40,50.60L397.90,50.02L398.40,49.05L398.90,48.65L399.25,48.60L399.40,48.61L399.90,48.83L400.40,49.55L400.90,50.06L401.40,50.29L401.90,50.51L402.40,50.60L402.90,50.60L403.40,50.60L403.90,50.60L404.40,50.60L404.90,50.60L405.40,50.57L405.90,50.48L406.40,50.39L406.90,50.35L407.40,50.40L407.90,50.29L408.40,49.71L408.90,49.34L409.40,49.15L409.90,49.10L410.00,49.10L410.40,49.12L410.90,49.24L411.40,48.62L411.50,48.60L411.90,49.09L412.40,49.15L412.90,49.40L413.40,49.93L413.90,50.30L414.40,49.22L414.90,48.71L415.40,48.60L415.90,48.71L416.40,49.22L416.90,50.30L417.40,50.60L417.90,50.60L418.40,50.60L418.90,50.60L419.40,50.45L419.90,50.13L420.40,49.37L420.80,49.10L420.90,49.11L421.40,49.65L421.90,49.61L422.30,49.60L422.40,49.60L422.90,49.62L423.40,49.68L423.90,49.79L424.40,49.98L424.90,50.24L425.40,50.39L425.90,50.35L426.40,50.27L426.90,50.18L427.40,50.24L427.90,49.89L428.40,49.65L428.90,49.50L429.40,49.42L429.90,49.40L430.00,49.40L430.40,49.41L430.90,49.46L431.40,49.58L431.90,49.78L432.40,50.09L432.90,50.50L433.40,50.60L433.90,50.60L434.40,50.60L434.90,50.22L435.40,49.75L435.90,49.46L436.40,49.33L436.90,49.30L437.40,49.33L437.90,49.46L438.40,49.75L438.90,50.22L439.40,50.39L439.90,50.51L440.40,50.58L440.90,50.36L441.40,49.52L441.90,49.16L442.30,49.10L442.40,49.10L442.90,49.25L443.40,49.79L443.90,50.21L444.40,50.19L444.90,50.33L445.40,50.46L445.90,49.80L446.40,49.23L446.90,48.31L447.00,48.30L447.40,48.67L447.90,48.60L448.10,48.60L448.40,48.61L448.90,48.50L449.20,48.30L449.40,48.37L449.90,49.33L450.40,49.94L450.90,50.46L451.40,50.32L451.90,50.04L452.40,49.55L452.90,49.26L453.40,49.12L453.85,49.10L453.90,49.10L454.40,49.14L454.90,49.30L455.40,49.63L455.90,50.17L456.40,50.21L456.90,49.32L457.40,48.58L457.70,48.30L457.90,48.47L458.40,49.15L458.90,50.02L459.40,50.48L459.90,50.60L460.40,50.60L460.90,50.60L461.40,50.60L461.90,50.60L462.40,50.60L462.90,50.60L463.40,50.11L463.90,49.66L464.40,48.66L464.60,48.60L464.90,48.77L465.40,49.11L465.75,49.10L465.90,49.10L466.40,49.14L466.90,49.27L467.40,49.52L467.90,49.91L468.40,50.47L468.90,50.47L469.40,50.22L469.90,49.70L470.35,49.60L470.40,49.60L470.90,49.76L471.40,50.40L471.90,50.60L472.40,50.60L472.90,50.60L473.40,50.56L473.90,50.52L474.40,50.49L474.90,50.53L475.40,50.58L475.90,49.08L476.40,48.61L476.55,48.60L476.90,48.70L477.40,49.54L477.90,50.06L478.40,49.60L478.45,49.60L478.90,49.88L479.40,50.49L479.90,50.54L480.40,50.59L480.90,50.60L481.40,50.60L481.90,50.59L482.40,50.51L482.90,50.43L483.40,50.34L483.90,50.37L484.00,50.60Z" fill="#8a22d8"/><text x="313.0" y="36.10" font-size="6.5" text-anchor="end" font-weight="bold" font-family="'Liberation Serif', serif">125</text><text x="300.3" y="44.20" font-size="6.2" text-anchor="end" font-weight="bold" font-family="'Liberation Serif', serif">FLI1</text><text x="311.9" y="49.90" font-size="5.6" text-anchor="end" font-weight="bold" font-family="'Liberation Serif', serif">0</text><line x1="313" y1="31.00" x2="314.5" y2="31.00" stroke="#555" stroke-width="0.6"/><line x1="312.6" y1="50.00" x2="314.8" y2="50.00" stroke="#333" stroke-width="0.8"/><path d="M316.40,74.48L316.40,74.48L316.60,74.42L316.90,73.58L317.10,72.98L317.40,72.65L317.90,72.09L318.40,71.54L318.90,70.98L319.40,69.63L319.90,68.29L320.20,67.48L320.40,68.15L320.90,69.81L321.10,70.48L321.40,71.31L321.90,72.70L322.00,72.98L322.40,72.88L322.80,72.78L322.90,72.69L323.40,72.22L323.90,71.76L324.20,71.48L324.40,71.73L324.90,72.35L325.00,72.48L325.40,70.08L325.90,67.08L326.00,66.48L326.40,63.10L326.90,58.86L327.30,55.48L327.40,56.26L327.90,60.15L328.20,62.48L328.40,62.63L328.90,63.02L329.40,63.40L329.50,63.48L329.90,63.04L330.40,62.48L330.90,66.92L331.30,70.48L331.40,70.92L331.90,73.10L332.10,73.97L332.40,74.05L332.60,74.10L332.90,74.19L333.40,73.16L333.70,72.98L333.90,73.05L334.40,73.96L334.90,73.88L335.40,73.84L335.90,73.22L336.40,72.61L336.55,72.48L336.60,72.48L336.90,72.83L337.40,73.45L337.90,73.86L338.40,73.87L338.90,73.89L339.40,73.91L339.90,73.93L340.40,74.11L340.90,74.15L341.40,73.84L341.90,73.64L342.40,73.53L342.90,73.48L343.20,73.48L343.40,73.48L343.90,73.51L344.40,73.61L344.90,73.79L345.40,74.02L345.90,74.01L346.40,74.12L346.90,73.46L347.25,72.98L347.40,73.04L347.90,74.44L348.40,74.48L348.90,74.48L349.40,74.48L349.90,74.48L350.40,74.21L350.90,73.53L351.15,73.48L351.40,73.53L351.90,74.21L352.40,74.14L352.90,74.04L353.40,74.09L353.90,72.84L354.40,71.61L354.50,71.48L354.90,72.29L355.40,73.79L355.90,73.87L356.40,73.49L356.55,73.48L356.90,73.54L357.35,73.48L357.40,73.48L357.90,73.59L358.40,74.01L358.90,74.48L359.40,74.48L359.90,74.48L360.40,74.46L360.90,74.20L361.40,73.94L361.90,73.68L362.40,73.59L362.90,73.79L363.40,73.64L363.90,73.49L364.15,73.48L364.40,73.49L364.90,73.64L365.40,73.68L365.90,73.70L366.40,73.74L366.90,73.78L367.40,73.95L367.90,73.90L368.40,73.40L368.90,73.11L369.40,72.99L369.75,72.98L369.90,72.98L370.40,73.05L370.90,73.26L371.40,73.67L371.90,74.15L372.40,74.38L372.90,74.36L373.40,74.16L373.90,74.02L374.40,73.11L374.90,72.24L375.40,71.49L375.90,70.98L376.40,71.49L376.90,72.24L377.40,73.11L377.90,74.07L378.40,74.48L378.90,74.35L379.40,74.22L379.90,74.14L380.40,74.10L380.90,74.12L381.40,73.38L381.90,72.83L382.40,72.56L382.90,72.48L383.00,72.48L383.40,72.51L383.90,72.69L384.40,73.13L384.90,73.87L385.40,74.01L385.90,74.04L386.40,74.07L386.90,74.14L387.40,74.28L387.90,74.41L388.40,74.19L388.90,72.88L389.40,71.98L389.90,72.88L390.40,74.19L390.90,74.13L391.40,73.98L391.90,73.97L392.40,74.26L392.90,73.71L393.40,73.49L393.65,73.48L393.90,73.49L394.40,73.71L394.90,74.28L395.40,72.78L395.75,72.48L395.90,72.52L396.40,73.83L396.90,72.15L397.40,70.49L397.90,69.20L398.25,68.68L398.40,68.84L398.90,69.93L399.40,71.45L399.90,73.27L400.40,73.53L400.90,72.81L401.40,72.52L401.75,72.48L401.90,72.48L402.40,72.65L402.90,72.21L403.15,71.98L403.40,72.21L403.90,73.85L404.40,74.07L404.90,74.29L405.40,74.46L405.90,74.26L406.40,73.88L406.85,73.48L406.90,73.48L407.40,73.76L407.90,73.76L408.40,73.76L408.90,73.76L409.40,73.87L409.90,74.07L410.40,73.89L410.90,73.10L411.30,72.98L411.40,72.98L411.90,73.31L412.40,74.30L412.90,74.24L413.40,74.10L413.90,72.93L414.40,72.68L414.90,72.93L415.40,73.83L415.90,74.03L416.40,74.18L416.90,74.19L417.40,74.21L417.90,74.22L418.40,72.60L418.80,71.98L418.90,72.00L419.40,73.68L419.90,73.87L420.40,73.94L420.90,74.01L421.40,74.09L421.90,74.17L422.40,74.25L422.90,74.31L423.40,74.36L423.90,74.41L424.40,73.91L424.90,73.60L425.40,73.49L425.65,73.48L425.90,73.49L426.40,73.60L426.90,73.69L427.40,73.86L427.90,74.02L428.40,74.16L428.90,74.26L429.40,74.19L429.90,73.70L430.40,73.50L430.75,73.48L430.90,73.48L431.40,73.59L431.90,73.95L432.40,74.02L432.90,74.19L433.40,74.37L433.90,74.37L434.40,74.09L434.90,73.91L435.40,72.79L435.90,72.02L436.10,71.98L436.40,72.08L436.90,73.11L437.40,74.04L437.90,73.93L438.40,73.33L438.90,72.98L439.40,73.33L439.90,73.83L440.40,73.99L440.90,74.12L441.40,74.25L441.90,74.38L442.40,73.60L442.90,72.49L443.35,71.98L443.40,71.98L443.90,72.82L444.40,73.78L444.90,73.49L445.40,72.18L445.80,71.98L445.90,71.99L446.40,72.53L446.90,73.80L447.40,73.73L447.90,73.67L448.40,73.52L448.90,71.37L449.40,69.75L449.50,69.58L449.90,70.64L450.40,72.62L450.90,74.08L451.40,72.89L451.90,72.22L452.40,71.96L452.60,71.33L452.90,70.99L453.00,70.98L453.40,71.33L453.90,73.09L454.40,74.48L454.90,74.28L455.40,74.08L455.90,73.95L456.40,73.86L456.90,73.35L457.40,72.13L457.90,71.58L458.35,70.98L458.40,70.98L458.90,71.65L459.40,72.32L459.90,73.69L460.40,73.96L460.90,73.42L461.40,71.79L461.90,70.42L462.35,69.58L462.40,69.63L462.90,70.67L463.40,72.10L463.90,73.76L464.40,73.11L464.90,72.08L465.20,71.98L465.40,72.02L465.90,72.79L466.40,74.01L466.90,71.92L467.40,70.48L467.90,71.92L468.40,73.59L468.90,73.41L469.40,72.54L469.90,72.09L470.35,71.48L470.40,71.48L470.50,71.52L470.90,72.02L471.40,72.32L471.90,73.00L472.40,74.01L472.90,73.91L473.40,73.80L473.90,73.93L474.40,72.74L474.90,71.21L475.40,69.97L475.65,69.58L475.90,69.97L476.40,71.21L476.90,72.74L477.40,73.92L477.90,72.37L478.40,71.56L478.70,71.48L478.90,71.51L479.40,72.12L479.90,73.94L480.40,73.50L480.50,73.48L480.90,74.05L481.40,74.23L481.90,74.32L482.40,74.42L482.90,74.48L483.40,74.48L483.90,74.48L484.00,74.48Z" fill="#c0187a"/><text x="313.0" y="59.98" font-size="6.5" text-anchor="end" font-weight="bold" font-family="'Liberation Serif', serif">35</text><text x="300.3" y="68.08" font-size="6.2" text-anchor="end" font-weight="bold" font-family="'Liberation Serif', serif">ERG</text><text x="311.9" y="73.78" font-size="5.6" text-anchor="end" font-weight="bold" font-family="'Liberation Serif', serif">0</text><line x1="313" y1="54.88" x2="314.5" y2="54.88" stroke="#555" stroke-width="0.6"/><line x1="312.6" y1="73.88" x2="314.8" y2="73.88" stroke="#333" stroke-width="0.8"/><path d="M316.40,98.36L316.40,97.88L316.80,97.88L316.90,97.88L317.10,97.86L317.40,97.86L317.90,97.86L318.40,97.86L318.90,97.86L319.40,97.86L319.90,97.86L320.40,97.86L320.90,97.86L321.40,97.86L321.90,97.86L322.40,97.86L322.80,97.86L322.90,97.87L323.40,97.92L323.90,97.97L324.40,98.02L324.80,98.06L324.90,97.78L325.40,96.36L325.90,86.36L326.00,84.36L326.40,79.03L326.60,76.36L326.90,80.36L327.20,84.36L327.40,86.76L327.70,90.36L327.90,90.67L328.40,91.45L328.60,91.76L328.90,91.89L329.40,92.12L329.50,92.16L329.90,92.96L330.40,93.96L330.90,94.46L331.30,94.86L331.40,94.92L331.90,95.23L332.10,95.36L332.40,95.53L332.90,95.80L333.00,95.86L333.40,95.86L333.90,95.86L334.40,95.86L334.90,95.24L335.20,94.86L335.40,94.66L335.70,94.36L335.90,94.47L336.40,94.75L336.60,94.86L336.90,96.11L337.20,97.36L337.40,97.86L337.60,97.94L337.90,97.97L338.40,98.07L338.90,98.17L339.40,98.28L339.90,98.33L340.40,98.19L340.90,98.06L341.40,97.92L341.90,97.78L342.40,97.91L342.90,97.21L343.40,96.88L343.65,96.86L343.90,96.88L344.40,97.21L344.90,98.10L345.40,98.36L345.90,98.36L346.40,98.36L346.90,98.33L347.40,96.94L347.90,95.41L348.40,94.36L348.90,95.41L349.40,96.94L349.90,98.33L350.40,97.89L350.75,97.36L350.90,97.42L351.40,97.85L351.90,96.87L352.40,96.26L352.90,95.95L353.40,95.86L353.50,95.82L353.90,93.65L354.30,92.16L354.40,92.41L354.90,94.68L355.40,97.41L355.90,97.72L356.40,97.36L356.50,97.36L356.65,97.36L356.90,97.45L357.40,98.36L357.90,98.36L358.40,98.36L358.90,98.36L359.40,98.36L359.90,98.36L360.40,97.70L360.90,97.12L361.40,96.11L361.80,95.86L361.90,95.87L362.40,96.56L362.90,96.60L363.40,96.56L363.90,95.87L364.00,95.86L364.40,96.11L364.90,97.78L365.40,98.25L365.90,97.94L366.40,97.15L366.90,96.66L367.40,96.42L367.90,96.12L367.95,95.96L368.40,94.86L368.90,96.12L369.40,97.03L369.90,97.76L370.40,98.15L370.90,98.01L371.40,97.87L371.90,97.83L372.40,97.90L372.90,97.96L373.40,98.08L373.90,98.21L374.40,98.35L374.90,97.74L375.40,96.80L375.90,95.98L376.40,95.39L376.45,95.36L376.90,95.84L377.40,96.62L377.90,97.55L378.40,97.08L378.75,96.86L378.90,96.89L379.40,97.91L379.90,98.09L380.40,98.01L380.90,97.93L381.40,97.86L381.90,97.98L382.40,97.49L382.90,97.23L383.40,97.16L383.45,97.16L383.90,97.20L384.40,97.42L384.90,97.91L385.40,98.19L385.90,98.15L386.40,98.09L386.90,98.02L387.40,97.96L387.90,98.01L388.40,98.12L388.90,98.23L389.40,98.34L389.90,98.36L390.40,97.38L390.50,97.36L390.90,97.93L391.40,98.36L391.90,98.36L392.40,98.36L392.90,98.36L393.40,98.24L393.90,98.07L394.40,97.90L394.90,97.86L395.40,97.90L395.90,97.94L396.40,97.53L396.90,96.80L397.40,95.24L397.60,94.86L397.90,95.51L398.40,96.38L398.90,96.36L399.40,96.38L399.90,96.48L400.40,96.69L400.90,97.03L401.40,96.88L401.70,96.86L401.90,96.87L402.40,97.02L402.90,97.49L403.40,98.10L403.90,98.22L404.40,98.35L404.90,98.29L405.40,98.21L405.90,98.14L406.40,98.06L406.90,98.02L407.40,97.98L407.90,97.94L408.40,97.91L408.90,97.96L409.40,98.00L409.90,98.05L410.40,98.11L410.90,98.19L411.40,98.27L411.90,98.35L412.40,98.23L412.90,98.09L413.40,97.95L413.90,97.91L414.40,97.92L414.90,97.76L415.40,97.22L415.90,96.75L416.40,96.40L416.50,96.36L416.90,96.59L417.40,97.02L417.90,97.54L418.40,98.12L418.90,98.17L419.40,98.03L419.90,97.89L420.40,97.89L420.90,97.96L421.40,98.02L421.90,98.06L422.40,98.00L422.90,97.93L423.40,97.87L423.90,97.84L424.40,97.83L424.90,97.82L425.40,97.81L425.90,97.80L426.40,97.58L426.70,97.56L426.90,97.57L427.40,97.73L427.90,98.03L428.40,98.14L428.90,98.13L429.40,98.09L429.90,98.05L430.40,98.02L430.90,97.98L431.40,97.95L431.90,97.92L432.40,97.90L432.90,97.68L433.40,97.23L433.90,96.84L434.40,96.51L434.75,96.36L434.90,96.41L435.40,96.70L435.90,97.07L436.40,97.50L436.90,97.96L437.40,98.01L437.90,98.13L438.40,98.24L438.90,98.36L439.40,98.36L439.90,98.36L440.40,98.36L440.90,98.36L441.40,98.36L441.90,97.96L442.40,97.62L442.90,97.43L443.40,97.36L443.65,97.36L443.90,97.36L444.40,97.43L444.90,97.62L445.40,97.96L445.90,98.36L446.40,98.36L446.90,97.98L447.40,97.52L447.90,97.01L448.30,96.86L448.40,96.86L448.70,97.01L448.90,97.16L449.40,97.24L449.90,97.46L450.40,97.87L450.90,98.31L451.40,98.24L451.90,98.17L452.40,98.14L452.90,98.20L453.40,98.26L453.90,98.31L454.40,98.10L454.90,97.61L455.40,97.32L455.90,97.18L456.35,96.89L456.40,96.83L456.80,96.66L456.90,96.67L457.40,97.13L457.90,97.69L458.40,98.23L458.90,98.36L459.40,98.35L459.90,98.27L460.40,98.20L460.90,98.25L461.40,98.30L461.90,98.35L462.40,97.47L462.90,96.65L463.40,95.95L463.90,95.42L464.00,95.36L464.40,95.71L464.90,96.36L465.40,97.13L465.90,97.99L466.40,98.29L466.90,98.28L467.40,98.11L467.90,97.94L468.40,97.79L468.90,97.85L469.40,97.92L469.90,97.99L470.40,98.05L470.90,98.12L471.40,98.18L471.90,97.81L472.40,97.56L472.90,97.42L473.40,97.37L473.75,97.36L473.90,97.36L474.40,97.39L474.90,97.50L475.40,97.70L475.90,98.01L476.40,98.36L476.90,98.36L477.40,98.36L477.90,98.36L478.40,98.36L478.90,98.36L479.40,98.36L479.90,98.34L480.40,98.24L480.90,98.15L481.40,98.06L481.90,97.78L482.40,97.57L482.65,97.56L482.90,97.57L483.40,97.78L483.90,98.16L484.00,98.36Z" fill="#1a6a1a"/><text x="313.0" y="83.86" font-size="6.5" text-anchor="end" font-weight="bold" font-family="'Liberation Serif', serif">100</text><text x="300.3" y="91.96" font-size="6.2" text-anchor="end" font-weight="bold" font-family="'Liberation Serif', serif">GATA2</text><text x="311.9" y="97.66" font-size="5.6" text-anchor="end" font-weight="bold" font-family="'Liberation Serif', serif">0</text><line x1="313" y1="78.76" x2="314.5" y2="78.76" stroke="#555" stroke-width="0.6"/><line x1="312.6" y1="97.76" x2="314.8" y2="97.76" stroke="#333" stroke-width="0.8"/><path d="M316.40,122.24L316.40,121.73L316.90,121.89L317.10,121.44L317.40,121.44L317.90,121.44L318.40,121.44L318.90,121.44L319.40,121.44L319.90,121.44L320.40,121.44L320.90,121.44L321.40,121.44L321.90,121.44L322.40,121.44L322.90,121.44L323.40,121.44L323.90,121.44L324.40,121.44L324.60,121.44L324.90,120.12L325.10,119.24L325.40,117.57L325.90,114.80L326.00,114.24L326.40,109.74L326.80,105.24L326.90,104.74L327.40,102.24L327.70,100.74L327.90,101.96L328.40,105.02L328.60,106.24L328.90,108.24L329.40,111.57L329.50,112.24L329.90,113.80L330.40,115.74L330.90,116.85L331.30,117.74L331.40,117.99L331.90,119.24L332.10,119.74L332.40,120.31L332.90,121.25L333.00,121.44L333.40,121.91L333.50,121.93L333.90,122.05L334.40,122.20L334.90,122.24L335.40,122.24L335.90,121.34L336.35,120.74L336.40,120.74L336.90,121.73L337.40,122.13L337.90,122.08L338.40,122.03L338.90,122.08L339.40,122.14L339.90,122.20L340.40,122.21L340.90,122.12L341.40,122.03L341.90,121.93L342.40,121.85L342.90,121.77L343.40,121.52L343.90,121.24L344.00,121.24L344.40,121.34L344.90,121.55L345.40,121.51L345.90,121.49L346.40,121.47L346.90,121.45L347.40,121.45L347.90,121.44L348.40,121.44L348.50,121.44L348.90,121.44L349.40,121.44L349.90,121.45L350.40,121.46L350.90,121.48L351.40,121.50L351.90,121.53L352.40,121.57L352.90,121.34L353.40,121.24L353.50,121.24L353.90,121.28L354.40,121.52L354.90,121.90L355.40,121.86L355.90,121.83L356.40,121.84L356.85,121.74L356.90,121.74L357.40,121.91L357.90,121.88L358.40,121.89L358.90,122.04L359.40,122.20L359.90,122.24L360.40,121.97L360.90,121.29L361.15,121.24L361.40,121.29L361.90,121.97L362.40,122.24L362.90,122.24L363.40,121.35L363.90,120.57L364.40,119.94L364.65,119.74L364.90,119.94L365.40,120.57L365.90,121.35L366.40,122.17L366.90,122.24L367.40,122.14L367.90,122.04L368.40,121.66L368.90,121.30L369.35,121.24L369.40,121.24L369.90,121.35L370.40,121.75L370.90,121.73L371.40,121.74L371.90,121.79L372.40,121.83L372.90,121.88L373.40,121.92L373.90,121.97L374.40,122.02L374.90,121.75L375.40,121.46L375.90,121.24L376.40,120.50L376.80,119.74L376.90,119.87L377.40,120.83L377.90,120.77L378.40,120.75L378.90,120.74L378.95,120.74L379.40,120.74L379.90,120.77L380.40,120.82L380.90,119.87L381.00,119.74L381.40,120.50L381.90,121.20L382.40,121.41L382.90,121.68L383.40,121.69L383.90,121.74L384.40,121.89L384.90,122.05L385.40,122.21L385.90,122.19L386.40,122.13L386.90,122.07L387.40,122.09L387.90,122.16L388.40,121.76L388.90,121.48L389.30,121.44L389.40,121.44L389.90,121.56L390.40,121.97L390.90,122.11L391.40,121.95L391.90,121.80L392.40,121.70L392.90,121.80L393.40,121.90L393.90,121.81L394.40,121.57L394.90,121.38L395.40,121.24L395.90,121.14L396.40,121.08L396.90,121.05L397.40,121.04L397.50,121.04L397.90,120.54L398.40,119.74L398.90,120.54L399.40,121.20L399.90,121.32L400.40,121.49L400.90,121.71L401.40,121.98L401.90,122.19L402.40,122.16L402.90,122.12L403.40,122.08L403.90,121.98L404.40,121.87L404.90,121.81L405.40,121.77L405.90,121.74L406.40,121.73L406.90,121.31L407.40,121.10L407.90,121.04L408.00,121.04L408.40,121.06L408.90,121.20L409.40,121.53L409.90,121.81L410.40,121.78L410.90,121.75L411.40,121.73L411.90,121.70L412.40,121.68L412.90,121.66L413.40,121.63L413.90,121.61L414.40,121.60L414.90,121.58L415.40,121.56L415.90,121.55L416.40,121.53L416.90,121.52L417.40,121.51L417.90,121.50L418.40,121.49L418.90,121.48L419.40,121.47L419.90,121.47L420.40,121.46L420.90,121.46L421.40,121.45L421.90,121.45L422.40,121.45L422.90,121.44L423.40,121.44L423.90,121.44L424.40,121.44L424.90,121.44L425.20,121.44L425.40,121.44L425.90,121.44L426.40,121.44L426.90,121.44L427.40,121.44L427.90,121.44L428.40,121.45L428.90,121.45L429.40,121.45L429.90,121.46L430.40,121.47L430.90,121.47L431.40,121.48L431.90,121.49L432.40,121.50L432.90,121.51L433.40,121.52L433.90,121.53L434.40,121.54L434.90,121.47L435.40,121.40L435.90,121.34L436.40,121.30L436.90,121.27L437.40,121.25L437.90,121.24L438.40,121.24L438.50,121.24L438.90,121.24L439.40,121.25L439.90,121.26L440.40,121.29L440.90,121.32L441.40,121.37L441.90,121.44L442.40,121.52L442.90,121.62L443.40,121.73L443.90,121.86L444.40,121.73L444.90,121.74L445.40,121.90L445.90,122.06L446.40,121.88L446.90,121.53L447.40,121.29L447.90,121.14L448.40,121.06L448.90,121.04L449.00,121.04L449.40,121.05L449.90,121.10L450.40,121.22L450.90,121.42L451.40,121.73L451.90,122.14L452.40,122.24L452.90,122.24L453.40,122.24L453.90,122.24L454.40,122.24L454.90,122.24L455.40,122.24L455.90,122.24L456.40,122.24L456.90,122.24L457.40,122.24L457.90,122.23L458.40,122.14L458.90,122.04L459.40,121.95L459.90,122.01L460.40,122.15L460.90,122.18L461.40,121.99L461.90,121.79L462.40,121.85L462.90,122.00L463.40,122.15L463.90,122.24L464.40,122.24L464.90,122.24L465.40,122.24L465.90,122.24L466.40,122.24L466.90,122.19L467.40,122.09L467.90,121.99L468.40,121.89L468.90,121.80L469.40,121.66L469.90,121.55L470.40,121.48L470.90,121.45L471.40,121.44L471.50,121.44L471.90,121.44L472.40,121.47L472.90,121.52L473.40,121.61L473.90,121.45L474.40,121.16L474.90,120.95L475.40,120.82L475.90,120.76L476.40,120.74L476.50,120.74L476.90,120.75L477.40,120.79L477.90,120.89L478.40,121.07L478.90,121.32L479.40,121.68L479.90,122.14L480.40,122.13L480.90,122.06L481.40,122.01L481.90,122.00L482.40,121.99L482.90,121.98L483.40,121.90L483.90,121.81L484.00,122.24Z" fill="#f2a024"/><text x="313.0" y="107.74" font-size="6.5" text-anchor="end" font-weight="bold" font-family="'Liberation Serif', serif">100</text><text x="300.3" y="115.84" font-size="6.2" text-anchor="end" font-weight="bold" font-family="'Liberation Serif', serif">RUNX1</text><text x="311.9" y="121.54" font-size="5.6" text-anchor="end" font-weight="bold" font-family="'Liberation Serif', serif">0</text><line x1="313" y1="102.64" x2="314.5" y2="102.64" stroke="#555" stroke-width="0.6"/><line x1="312.6" y1="121.64" x2="314.8" y2="121.64" stroke="#333" stroke-width="0.8"/><path d="M316.40,146.12L316.40,146.12L316.80,146.03L316.90,145.91L317.40,144.83L317.50,144.62L317.90,144.36L318.40,144.04L318.90,143.72L319.40,143.31L319.90,142.90L320.00,142.82L320.40,143.05L320.90,143.34L321.20,143.52L321.40,143.49L321.90,143.40L322.40,143.32L322.90,143.18L323.40,143.05L323.50,143.02L323.90,142.97L324.40,142.90L324.90,142.83L325.00,142.82L325.40,141.94L325.90,140.84L326.00,140.62L326.40,138.37L326.80,136.12L326.90,134.55L327.40,126.69L327.50,125.12L327.90,130.26L328.20,134.12L328.40,136.29L328.80,140.62L328.90,140.80L329.40,141.71L329.90,142.62L330.40,142.97L330.90,143.31L331.20,143.52L331.40,143.72L331.90,144.22L332.30,144.62L332.40,144.55L332.90,144.19L333.00,144.12L333.40,142.63L333.70,141.52L333.90,141.59L334.40,141.78L334.50,141.82L334.90,142.22L335.30,142.62L335.40,142.38L335.90,141.16L336.00,140.92L336.40,140.72L336.80,140.52L336.90,140.62L337.40,141.12L337.60,141.32L337.90,142.26L338.30,143.52L338.40,143.53L338.90,143.57L339.40,143.62L339.90,143.67L340.40,143.71L340.50,143.72L340.90,143.96L341.40,144.26L341.50,144.32L341.90,144.35L342.40,144.38L342.90,144.41L343.40,144.45L343.90,144.48L344.40,144.51L344.50,144.52L344.90,144.76L345.40,145.06L345.50,145.12L345.90,145.02L346.40,144.90L346.90,144.77L347.40,144.65L347.50,144.62L347.90,144.74L348.40,144.89L348.50,144.92L348.90,145.20L349.40,145.55L349.50,145.62L349.90,145.65L350.40,145.68L350.90,145.71L351.40,145.75L351.90,145.78L352.40,145.66L352.50,145.62L352.90,144.28L353.20,143.12L353.40,142.34L353.90,140.38L354.30,138.82L354.40,139.29L354.90,141.65L355.00,142.12L355.40,144.12L355.60,145.12L355.90,145.12L356.40,145.12L356.90,145.12L357.40,145.12L357.90,145.12L358.20,145.12L358.40,144.52L358.70,143.62L358.90,143.62L359.40,143.62L359.50,143.62L359.90,143.35L360.40,143.02L360.45,143.02L360.90,143.22L361.40,144.31L361.90,145.18L362.40,145.25L362.90,144.96L363.30,144.92L363.40,144.92L363.90,145.04L364.40,145.47L364.90,145.95L365.40,145.92L365.90,146.00L366.40,146.07L366.90,146.12L367.40,146.12L367.90,144.23L368.40,142.97L368.90,142.62L369.00,142.62L369.40,142.75L369.90,143.60L370.40,144.90L370.90,142.99L371.40,142.35L371.60,142.32L371.90,142.40L372.40,143.26L372.90,145.40L373.40,143.75L373.90,142.67L374.10,142.62L374.40,142.76L374.90,144.20L375.40,145.49L375.90,143.24L376.40,142.27L376.80,142.12L376.90,142.12L377.40,142.52L377.90,143.96L378.40,145.98L378.90,145.39L379.40,142.80L379.90,141.69L380.30,141.52L380.40,141.53L380.90,141.99L381.40,143.64L381.90,144.84L382.40,142.58L382.90,141.44L383.40,141.12L383.50,141.12L383.90,141.24L384.40,142.00L384.90,143.79L385.40,145.56L385.90,145.04L386.40,144.70L386.90,144.62L386.95,144.62L387.40,144.67L387.90,144.95L388.40,145.40L388.90,145.24L389.40,143.01L389.90,141.97L390.10,141.92L390.40,142.05L390.90,143.44L391.40,145.67L391.90,144.65L392.05,144.62L392.40,144.84L392.90,146.07L393.40,144.77L393.90,144.15L394.10,144.12L394.40,144.20L394.90,145.02L395.40,145.64L395.90,144.89L396.40,144.63L396.60,144.62L396.90,144.65L397.40,144.99L397.90,145.87L398.40,145.72L398.90,144.13L399.40,143.17L399.90,142.72L400.40,142.62L400.90,142.72L401.40,143.17L401.90,144.13L402.40,145.72L402.90,146.09L403.40,145.95L403.90,145.81L404.40,145.67L404.90,145.58L405.40,145.76L405.90,145.94L406.40,145.47L406.90,144.86L407.40,144.46L407.90,144.23L408.40,144.13L408.75,144.12L408.90,144.12L409.40,144.17L409.90,144.35L410.40,144.68L410.90,145.20L411.40,145.75L411.90,145.55L412.40,143.42L412.90,142.23L413.40,141.76L413.70,141.72L413.90,141.74L414.40,142.08L414.90,143.11L415.40,145.05L415.90,145.56L416.40,145.01L416.90,144.61L417.40,144.34L417.90,144.19L418.40,144.13L418.75,144.06L418.90,143.87L419.40,143.62L419.50,143.62L419.90,143.71L420.40,144.32L420.90,144.83L421.40,145.24L421.90,145.27L422.40,145.29L422.90,145.31L423.40,145.21L423.90,145.00L424.40,144.84L424.90,144.73L425.40,144.66L425.90,144.63L426.40,144.62L426.50,144.62L426.90,144.62L427.40,144.65L427.90,144.70L428.40,144.79L428.90,144.93L429.40,145.12L429.90,145.33L430.40,145.24L430.90,145.21L431.40,145.55L431.90,145.88L432.40,146.12L432.90,146.12L433.40,145.58L433.90,145.06L434.40,144.69L434.90,144.47L435.40,144.35L435.90,144.32L436.00,144.32L436.40,144.33L436.90,144.41L437.40,144.59L437.90,144.89L438.40,145.35L438.90,145.97L439.40,144.62L439.90,143.75L440.30,143.62L440.40,143.62L440.90,143.98L441.40,144.23L441.90,142.11L442.30,140.82L442.40,141.06L442.90,142.92L443.40,145.16L443.90,142.71L444.05,142.62L444.40,143.36L444.90,145.69L445.40,144.85L445.90,144.31L446.40,144.02L446.90,143.73L447.10,143.56L447.30,143.52L447.40,143.53L447.90,144.06L448.40,144.40L448.90,144.99L449.40,145.85L449.90,145.49L450.40,145.25L450.90,145.15L451.05,145.12L451.40,145.14L451.90,145.24L452.40,145.33L452.90,145.43L453.40,145.61L453.90,145.88L454.40,146.10L454.90,145.96L455.40,145.81L455.90,145.67L456.40,145.53L456.90,145.00L457.40,143.86L457.90,143.45L458.15,143.42L458.40,143.45L458.90,143.86L459.40,145.00L459.90,145.73L460.40,145.04L460.90,144.70L461.40,144.62L461.45,144.62L461.90,144.67L462.40,144.95L462.90,145.56L463.40,145.77L463.90,145.90L464.40,146.04L464.90,146.07L465.40,145.93L465.90,145.79L466.40,143.38L466.90,142.05L467.40,141.72L467.45,141.72L467.90,141.92L468.40,143.01L468.90,145.44L469.40,145.54L469.90,145.27L470.40,145.05L470.90,144.86L471.40,144.70L471.90,144.57L472.40,144.48L472.90,144.41L473.40,144.36L473.90,144.33L474.40,144.32L474.75,144.32L474.90,144.32L475.40,144.33L475.90,144.35L476.40,144.38L476.90,144.44L477.40,144.53L477.90,144.64L478.40,144.79L478.90,144.97L479.40,145.18L479.90,145.43L480.40,145.72L480.90,146.05L481.40,146.09L481.90,145.86L482.40,145.61L482.90,144.62L482.95,144.62L483.40,145.22L483.90,145.27L484.00,146.12Z" fill="#15175a"/><text x="313.0" y="131.62" font-size="6.5" text-anchor="end" font-weight="bold" font-family="'Liberation Serif', serif">35</text><text x="300.3" y="139.72" font-size="6.2" text-anchor="end" font-weight="bold" font-family="'Liberation Serif', serif">SCL</text><text x="311.9" y="145.42" font-size="5.6" text-anchor="end" font-weight="bold" font-family="'Liberation Serif', serif">0</text><line x1="313" y1="126.52" x2="314.5" y2="126.52" stroke="#555" stroke-width="0.6"/><line x1="312.6" y1="145.52" x2="314.8" y2="145.52" stroke="#333" stroke-width="0.8"/><path d="M316.40,170.00L316.40,170.00L316.90,170.00L317.40,170.00L317.90,170.00L318.40,170.00L318.90,170.00L319.40,170.00L319.90,170.00L320.40,170.00L320.90,169.90L321.40,169.80L321.90,169.77L322.40,169.84L322.60,169.87L322.90,169.36L323.30,168.50L323.40,168.41L323.90,167.97L324.40,167.53L324.90,167.09L325.00,167.00L325.40,165.00L325.90,162.50L326.00,162.00L326.40,159.33L326.90,156.00L327.20,154.00L327.40,153.40L327.80,152.20L327.90,152.67L328.40,155.00L328.90,158.33L329.30,161.00L329.40,161.36L329.90,163.18L330.40,165.00L330.90,166.35L331.40,167.69L331.70,168.50L331.90,168.83L332.40,169.67L332.60,170.00L332.90,170.00L333.40,170.00L333.90,170.00L334.40,170.00L334.90,170.00L335.40,170.00L335.90,170.00L336.40,170.00L336.90,170.00L337.40,170.00L337.90,170.00L338.40,170.00L338.90,170.00L339.40,170.00L339.90,169.93L340.40,169.80L340.90,169.66L341.40,169.53L341.90,169.04L342.10,169.00L342.40,169.12L342.90,170.00L343.40,170.00L343.90,170.00L344.40,170.00L344.90,169.93L345.40,169.74L345.90,169.55L346.40,169.58L346.90,169.62L347.40,169.66L347.90,168.97L348.40,167.45L348.90,166.35L348.95,166.30L349.40,167.19L349.90,168.64L350.40,169.91L350.90,169.97L351.40,169.91L351.90,169.73L352.40,168.61L352.90,167.03L353.40,165.71L353.80,165.00L353.90,165.12L354.40,166.20L354.90,167.64L355.40,169.29L355.90,169.62L356.40,169.42L356.90,169.06L357.35,169.00L357.40,169.00L357.90,169.11L358.40,169.53L358.90,169.95L359.40,170.00L359.90,170.00L360.40,170.00L360.90,170.00L361.40,170.00L361.90,170.00L362.40,169.49L362.90,168.72L363.40,168.50L363.50,168.50L363.90,168.58L364.40,169.10L364.90,169.81L365.40,169.77L365.90,169.86L366.40,169.94L366.90,169.99L367.40,169.91L367.90,169.84L368.40,169.77L368.90,168.44L369.40,168.00L369.50,168.00L369.90,168.16L370.40,169.21L370.90,169.87L371.40,169.71L371.90,169.77L372.40,169.91L372.90,168.88L373.40,168.34L373.90,168.20L373.95,168.20L374.40,168.28L374.90,168.73L375.40,169.72L375.90,170.00L376.40,169.28L376.90,169.00L377.00,169.00L377.40,169.10L377.90,169.77L378.40,169.99L378.90,169.84L379.40,169.69L379.90,169.62L380.40,169.57L380.90,169.52L381.40,169.05L381.65,169.00L381.90,169.05L382.40,169.70L382.90,169.82L383.40,169.94L383.90,170.00L384.40,170.00L384.90,169.91L385.40,169.72L385.90,169.53L386.40,169.53L386.90,169.67L387.40,169.82L387.90,169.88L388.40,169.92L388.90,169.50L389.40,168.74L389.90,168.51L390.05,168.50L390.40,168.55L390.90,168.97L391.40,170.00L391.90,168.59L392.40,168.05L392.70,168.00L392.90,168.02L393.40,168.43L393.90,169.37L394.40,169.57L394.90,169.77L395.40,168.81L395.85,168.50L395.90,168.50L396.40,169.01L396.90,170.00L397.40,170.00L397.90,169.89L398.40,169.70L398.90,169.63L399.40,169.76L399.90,169.90L400.40,169.96L400.90,169.79L401.40,169.62L401.90,169.77L402.40,169.94L402.90,169.93L403.40,169.82L403.90,169.71L404.40,169.61L404.90,169.72L405.40,169.86L405.90,169.99L406.40,169.38L406.90,169.04L407.25,169.00L407.40,169.00L407.90,169.19L408.40,169.81L408.90,169.96L409.40,169.83L409.90,169.70L410.40,169.57L410.90,169.66L411.40,169.89L411.90,170.00L412.40,170.00L412.90,170.00L413.40,169.95L413.90,169.85L414.40,169.76L414.90,169.66L415.40,169.60L415.90,168.79L416.40,168.51L416.55,168.50L416.90,168.56L417.40,169.07L417.90,169.67L418.40,169.46L418.90,169.34L419.40,169.00L419.45,169.00L419.90,169.20L420.40,169.94L420.90,169.78L421.40,169.62L421.90,169.46L422.40,169.40L422.90,169.05L423.30,169.00L423.40,169.00L423.90,169.14L424.40,169.63L424.90,169.47L425.40,169.32L425.90,169.34L426.40,169.36L426.90,169.05L427.15,169.00L427.40,169.05L427.90,169.35L428.40,169.33L428.90,169.47L429.40,169.65L429.90,169.72L430.40,169.25L430.90,169.04L431.35,169.00L431.40,169.00L431.90,169.06L432.40,169.32L432.90,169.80L433.40,169.59L433.90,169.40L434.40,169.62L434.90,169.85L435.40,169.95L435.90,169.49L436.40,169.06L436.80,169.00L436.90,169.00L437.40,169.18L437.90,169.44L438.40,169.43L438.90,169.41L439.40,169.50L439.90,169.68L440.40,169.85L440.90,170.00L441.40,170.00L441.90,170.00L442.40,169.99L442.90,169.90L443.40,169.81L443.90,169.72L444.40,169.40L444.90,169.05L445.30,169.00L445.40,169.00L445.90,169.14L446.40,169.66L446.90,170.00L447.40,170.00L447.90,169.25L448.40,168.71L448.90,168.51L449.15,168.50L449.40,168.51L449.90,168.71L450.40,169.25L450.90,169.62L451.40,169.61L451.90,169.53L452.40,169.46L452.90,169.43L453.40,169.00L453.90,168.82L454.25,168.80L454.40,168.80L454.90,168.90L455.40,169.22L455.90,169.59L456.40,169.44L456.90,169.40L457.40,169.41L457.90,169.41L458.40,169.42L458.90,169.38L459.40,169.04L459.75,169.00L459.90,169.00L460.40,169.19L460.90,169.42L461.40,169.42L461.90,169.43L462.40,169.46L462.90,169.52L463.40,169.76L463.90,169.99L464.40,169.84L464.90,169.68L465.40,169.52L465.90,169.36L466.40,169.36L466.90,169.37L467.40,168.76L467.90,168.08L468.25,168.00L468.40,168.01L468.90,168.39L469.40,169.62L469.90,169.38L470.40,169.55L470.90,169.73L471.40,169.60L471.90,168.90L472.40,168.57L472.90,168.50L473.40,168.57L473.90,168.90L474.40,169.60L474.90,169.84L475.40,170.00L475.90,170.00L476.40,169.72L476.90,168.67L477.40,168.15L477.90,168.00L478.00,168.00L478.40,168.05L478.90,168.41L479.40,169.23L479.90,169.99L480.40,170.00L480.90,170.00L481.40,170.00L481.90,170.00L482.40,170.00L482.90,170.00L483.40,170.00L483.90,170.00L484.00,170.00Z" fill="#1616e0"/><text x="313.0" y="155.50" font-size="6.5" text-anchor="end" font-weight="bold" font-family="'Liberation Serif', serif">75</text><text x="300.3" y="163.60" font-size="6.2" text-anchor="end" font-weight="bold" font-family="'Liberation Serif', serif">LYL1</text><text x="311.9" y="169.30" font-size="5.6" text-anchor="end" font-weight="bold" font-family="'Liberation Serif', serif">0</text><line x1="313" y1="150.40" x2="314.5" y2="150.40" stroke="#555" stroke-width="0.6"/><line x1="312.6" y1="169.40" x2="314.8" y2="169.40" stroke="#333" stroke-width="0.8"/><path d="M316.40,193.88L316.40,193.38L316.90,193.51L317.40,189.71L317.50,188.88L317.90,186.59L318.20,184.88L318.40,185.44L318.90,186.85L319.30,187.98L319.40,188.05L319.90,188.40L320.40,188.74L320.60,188.88L320.90,188.95L321.40,189.06L321.90,189.17L322.40,189.28L322.90,189.78L323.40,190.28L323.70,190.58L323.90,189.92L324.40,188.26L324.90,186.61L325.00,186.28L325.40,186.92L325.90,187.72L326.00,187.88L326.40,186.96L326.90,185.80L327.30,184.88L327.40,184.66L327.90,183.55L328.20,182.88L328.40,180.38L328.60,177.88L328.90,179.88L329.40,183.21L329.50,183.88L329.90,184.32L330.40,184.88L330.80,193.67L330.90,193.64L331.40,193.49L331.90,193.35L332.40,193.58L332.90,193.82L333.40,191.56L333.90,189.16L334.40,187.48L334.65,187.08L334.90,187.48L335.40,189.16L335.90,191.56L336.40,193.86L336.90,193.80L337.40,193.03L337.75,192.88L337.90,192.90L338.40,193.58L338.90,193.65L339.40,192.89L339.90,191.58L340.30,191.38L340.40,191.39L340.90,191.93L341.40,193.61L341.90,193.70L342.40,193.78L342.90,193.87L343.40,193.05L343.90,191.78L344.40,191.39L344.55,191.38L344.90,191.47L345.40,192.17L345.90,193.88L346.40,193.88L346.90,193.88L347.40,193.83L347.90,193.40L348.40,192.98L348.90,192.72L349.40,191.93L349.90,191.69L350.05,191.68L350.40,191.73L350.90,192.05L351.40,191.81L351.90,191.64L352.40,191.53L352.90,191.46L353.40,191.42L353.90,189.19L354.40,187.13L354.75,186.18L354.90,186.50L355.40,188.30L355.75,189.90L355.90,190.64L356.40,191.38L356.90,191.38L357.25,191.39L357.40,191.39L357.90,191.41L358.40,191.44L358.90,191.50L359.40,191.59L359.90,190.86L360.40,190.13L360.90,189.69L360.95,189.68L361.40,190.01L361.90,190.69L362.40,191.59L362.90,192.66L363.40,193.13L363.90,193.02L364.40,192.92L364.90,192.88L364.95,192.88L365.40,192.93L365.90,193.17L366.40,193.35L366.90,192.02L367.40,191.00L367.75,190.88L367.90,190.89L368.40,191.46L368.90,191.45L369.40,191.27L369.90,189.77L370.40,188.47L370.50,188.38L370.90,189.14L371.40,190.93L371.90,190.91L372.25,190.58L372.40,190.64L372.90,190.88L373.40,190.88L373.90,188.81L374.10,188.38L374.40,189.16L374.50,189.59L374.90,190.88L375.40,190.88L375.85,190.88L375.90,190.88L376.40,190.89L376.90,190.90L377.40,189.53L377.55,189.28L377.90,190.17L378.40,191.01L378.90,191.10L379.40,191.21L379.45,191.23L379.90,191.37L380.40,191.58L380.90,191.84L381.40,191.18L381.80,191.08L381.90,191.08L382.40,191.36L382.90,192.37L383.40,193.23L383.90,193.17L384.40,193.22L384.90,193.35L385.40,193.48L385.90,193.51L386.40,193.54L386.90,193.46L387.40,193.38L387.90,193.07L388.40,192.92L388.90,192.88L388.95,192.88L389.40,192.90L389.90,193.03L390.40,192.59L390.90,192.16L391.40,191.82L391.90,191.55L392.40,191.35L392.90,191.19L393.40,191.08L393.90,191.00L394.40,190.95L394.90,190.92L395.40,190.07L395.90,188.70L396.15,188.38L396.40,188.70L396.90,190.07L397.40,190.88L397.65,190.88L397.90,190.88L398.40,190.88L398.90,190.55L399.40,190.38L399.50,190.38L399.90,190.44L400.40,190.86L400.90,190.95L401.40,191.00L401.90,190.80L402.40,189.88L402.90,190.80L403.40,191.55L403.90,189.89L404.40,188.13L404.90,189.89L405.40,193.11L405.90,192.19L406.40,191.42L406.60,191.38L406.90,191.48L407.40,192.51L407.90,193.84L408.40,193.67L408.90,193.51L409.40,193.34L409.90,193.08L410.40,192.54L410.90,192.21L411.40,192.02L411.75,191.95L411.90,191.93L412.40,191.89L412.90,191.88L413.40,191.88L413.55,191.88L413.90,191.88L414.40,191.88L414.90,191.81L415.40,190.32L415.70,189.88L415.90,190.12L416.40,191.46L416.90,192.73L417.40,193.09L417.90,192.55L418.40,192.38L418.55,192.38L418.90,192.42L419.40,192.71L419.90,193.39L420.40,193.49L420.90,193.59L421.40,193.54L421.90,193.34L422.40,193.15L422.90,192.98L423.40,193.03L423.90,193.07L424.40,193.18L424.90,191.54L425.40,190.14L425.85,189.88L425.90,189.88L426.40,190.30L426.90,191.07L427.40,190.96L427.90,190.90L428.40,190.88L428.90,190.88L428.95,190.88L429.40,190.88L429.90,190.88L430.40,190.88L430.90,190.54L431.40,188.15L431.65,187.28L431.90,188.15L432.40,190.54L432.90,191.60L433.40,190.70L433.65,190.38L433.90,190.70L434.40,193.18L434.90,190.80L435.40,189.94L435.65,189.88L435.90,189.94L436.40,190.80L436.90,192.51L437.40,192.05L437.85,191.77L437.90,191.75L438.40,191.56L438.90,191.46L439.40,191.41L439.90,191.39L440.40,189.88L440.90,189.48L441.00,189.49L441.40,189.88L441.90,191.38L442.40,191.40L442.90,190.88L443.40,191.51L443.90,191.66L444.20,191.80L444.40,191.91L444.90,192.31L445.40,192.88L445.90,193.69L446.40,193.02L446.90,192.33L447.40,191.98L447.90,191.75L448.00,191.54L448.25,191.38L448.40,191.42L448.90,191.96L449.40,191.42L449.90,191.11L450.40,190.96L450.90,190.90L451.40,190.34L451.90,189.00L452.00,188.80L452.15,188.58L452.40,189.00L452.90,190.34L453.40,190.93L453.90,191.03L454.40,191.22L454.90,190.89L455.05,190.88L455.40,190.95L455.90,191.55L456.40,193.00L456.90,193.13L457.30,192.88L457.40,192.89L457.90,193.56L458.40,193.88L458.90,193.08L459.40,192.55L459.90,192.24L460.40,192.10L460.80,192.08L460.90,192.08L461.40,192.14L461.90,192.34L462.40,192.05L462.90,191.75L463.40,191.56L463.90,191.46L464.40,191.35L464.90,189.61L465.40,187.94L465.90,186.40L466.00,186.12L466.10,185.88L466.40,186.69L466.90,188.27L467.40,189.96L467.90,191.43L468.40,191.51L468.90,191.66L469.40,191.91L469.90,192.31L470.40,192.52L470.90,192.42L471.40,192.38L471.60,192.38L471.90,192.38L472.40,192.43L472.90,192.55L473.40,192.77L473.90,193.09L474.40,193.54L474.90,193.37L475.40,192.74L475.90,191.16L476.40,190.46L476.75,190.38L476.90,190.39L477.40,190.78L477.90,191.88L478.40,191.88L478.80,191.88L478.90,191.88L479.40,191.88L479.90,191.56L480.40,191.30L480.75,190.90L480.90,190.88L481.40,191.30L481.90,191.76L482.40,192.31L482.90,193.18L483.40,193.45L483.90,193.56L484.00,193.88Z" fill="#3d7bbb"/><text x="313.0" y="179.38" font-size="6.5" text-anchor="end" font-weight="bold" font-family="'Liberation Serif', serif">25</text><text x="300.3" y="187.48" font-size="6.2" text-anchor="end" font-weight="bold" font-family="'Liberation Serif', serif">LMO2</text><text x="311.9" y="193.18" font-size="5.6" text-anchor="end" font-weight="bold" font-family="'Liberation Serif', serif">0</text><line x1="313" y1="174.28" x2="314.5" y2="174.28" stroke="#555" stroke-width="0.6"/><line x1="312.6" y1="193.28" x2="314.8" y2="193.28" stroke="#333" stroke-width="0.8"/><path d="M316.40,217.76L316.40,217.27L316.90,217.42L317.40,217.15L317.90,216.87L318.10,216.86L318.40,216.89L318.90,217.27L319.40,217.33L319.90,217.17L320.40,217.15L320.90,216.87L321.10,216.86L321.40,216.89L321.90,217.11L322.40,216.92L322.90,216.95L323.40,217.09L323.90,217.27L324.40,216.81L324.90,216.38L325.10,216.36L325.40,216.41L325.90,216.99L326.40,217.76L326.90,217.76L327.40,216.81L327.90,216.38L328.10,216.36L328.40,216.41L328.90,216.99L329.40,217.27L329.90,217.11L330.40,216.81L330.90,216.38L331.10,216.36L331.40,216.41L331.90,216.99L332.40,217.76L332.90,217.76L333.40,216.81L333.90,216.38L334.10,216.36L334.40,216.41L334.90,216.99L335.40,217.76L335.90,217.65L336.40,216.81L336.90,216.38L337.10,216.36L337.40,216.41L337.90,216.99L338.40,217.71L338.90,217.54L339.40,216.81L339.90,216.38L340.10,216.36L340.40,216.41L340.90,216.99L341.40,217.76L341.90,217.76L342.40,217.74L342.90,217.54L343.40,217.15L343.90,216.87L344.10,216.86L344.40,216.89L344.90,217.27L345.40,217.43L345.90,217.52L346.40,217.15L346.90,216.87L347.10,216.86L347.40,216.89L347.90,217.27L348.40,217.76L348.90,217.76L349.40,217.76L349.90,217.76L350.40,217.15L350.90,216.87L351.10,216.86L351.40,216.89L351.90,217.06L352.40,217.05L352.90,217.34L353.40,217.62L353.90,217.76L354.40,216.81L354.90,216.38L355.10,216.36L355.40,216.41L355.90,216.99L356.40,217.76L356.90,217.76L357.40,216.81L357.90,216.38L358.10,216.36L358.40,216.41L358.90,216.99L359.40,217.14L359.90,217.34L360.40,217.54L360.90,217.74L361.40,217.15L361.90,216.87L362.10,216.86L362.40,216.89L362.90,217.27L363.40,217.35L363.90,217.50L364.40,217.65L364.90,217.72L365.40,217.15L365.90,216.87L366.10,216.86L366.40,216.89L366.90,217.27L367.40,217.36L367.90,217.38L368.40,217.40L368.90,217.34L369.40,216.81L369.90,216.38L370.10,216.36L370.40,216.41L370.90,216.99L371.40,217.66L371.90,217.76L372.40,217.76L372.90,217.76L373.40,217.15L373.90,216.87L374.10,216.86L374.40,216.89L374.90,217.27L375.40,217.56L375.90,217.40L376.40,217.25L376.90,217.42L377.40,217.15L377.90,216.87L378.10,216.86L378.40,216.89L378.90,217.27L379.40,217.76L379.90,217.76L380.40,217.76L380.90,217.76L381.40,216.81L381.90,216.38L382.10,216.36L382.40,216.41L382.90,216.99L383.40,217.76L383.90,217.67L384.40,217.49L384.90,217.32L385.40,217.15L385.90,216.87L386.10,216.86L386.40,216.89L386.90,217.27L387.40,217.76L387.90,217.76L388.40,217.73L388.90,217.55L389.40,217.37L389.90,217.18L390.40,216.81L390.90,216.38L391.10,216.36L391.40,216.41L391.90,216.99L392.40,217.42L392.90,217.75L393.40,217.57L393.90,217.39L394.40,217.15L394.90,216.87L395.10,216.86L395.40,216.89L395.90,217.21L396.40,217.24L396.90,217.24L397.40,217.25L397.90,217.26L398.40,217.15L398.90,216.87L399.10,216.86L399.40,216.89L399.90,217.01L400.40,216.95L400.90,216.99L401.40,217.03L401.90,217.11L402.40,216.81L402.90,216.38L403.10,216.36L403.40,216.41L403.90,216.99L404.40,217.56L404.90,217.66L405.40,217.75L405.90,217.66L406.40,217.15L406.90,216.87L407.10,216.86L407.40,216.89L407.90,217.27L408.40,217.74L408.90,217.76L409.40,217.76L409.90,217.62L410.40,217.15L410.90,216.87L411.10,216.86L411.40,216.89L411.90,217.04L412.40,217.09L412.90,217.29L413.40,217.50L413.90,217.71L414.40,216.81L414.90,216.38L415.10,216.36L415.40,216.41L415.90,216.99L416.40,217.28L416.90,217.19L417.40,217.11L417.90,217.04L418.40,216.96L418.90,216.87L419.10,216.86L419.40,216.89L419.90,217.27L420.40,217.49L420.90,217.58L421.40,217.66L421.90,217.74L422.40,217.76L422.90,217.76L423.40,216.81L423.90,216.38L424.10,216.36L424.40,216.41L424.90,216.99L425.40,217.18L425.90,217.21L426.40,217.35L426.90,217.52L427.40,217.15L427.90,216.87L428.10,216.86L428.40,216.89L428.90,217.27L429.40,217.76L429.90,217.76L430.40,217.76L430.90,217.76L431.40,217.15L431.90,216.87L432.10,216.86L432.40,216.89L432.90,217.27L433.40,217.38L433.90,217.16L434.40,217.16L434.90,217.34L435.40,216.81L435.90,216.38L436.10,216.36L436.40,216.41L436.90,216.99L437.40,217.16L437.90,216.93L438.40,217.04L438.90,217.28L439.40,217.15L439.90,216.87L440.10,216.86L440.40,216.89L440.90,217.27L441.40,217.62L441.90,217.57L442.40,217.63L442.90,217.70L443.40,217.15L443.90,216.87L444.10,216.86L444.40,216.89L444.90,217.27L445.40,217.44L445.90,217.59L446.40,217.75L446.90,217.40L447.40,216.81L447.90,216.38L448.10,216.36L448.40,216.41L448.90,216.92L449.40,217.07L449.90,217.22L450.40,217.31L450.90,217.38L451.40,217.15L451.90,216.87L452.10,216.86L452.40,216.89L452.90,217.27L453.40,217.18L453.90,217.13L454.40,217.09L454.90,217.04L455.40,217.14L455.90,216.87L456.10,216.86L456.40,216.89L456.90,217.27L457.40,217.72L457.90,217.62L458.40,217.53L458.90,217.45L459.40,216.81L459.90,216.38L460.10,216.36L460.40,216.41L460.90,216.99L461.40,217.68L461.90,217.61L462.40,217.27L462.90,216.97L463.40,217.15L463.90,216.87L464.10,216.86L464.40,216.89L464.90,217.27L465.40,217.69L465.90,217.59L466.40,217.49L466.90,217.38L467.40,217.15L467.90,216.87L468.10,216.86L468.40,216.89L468.90,217.27L469.40,217.16L469.90,217.06L470.40,217.00L470.90,216.95L471.40,216.81L471.90,216.38L472.10,216.36L472.40,216.41L472.90,216.99L473.40,217.11L473.90,217.20L474.40,217.34L474.90,217.55L475.40,217.15L475.90,216.87L476.10,216.86L476.40,216.89L476.90,217.27L477.40,217.19L477.90,217.03L478.40,216.90L478.90,217.12L479.40,217.15L479.90,216.87L480.10,216.86L480.40,216.89L480.90,217.27L481.40,217.76L481.90,217.76L482.40,217.15L482.90,216.87L483.10,216.86L483.40,216.89L483.90,217.27L484.00,217.76Z" fill="#b0b0b0"/><text x="313.0" y="203.26" font-size="6.5" text-anchor="end" font-weight="bold" font-family="'Liberation Serif', serif">50</text><text x="300.3" y="211.36" font-size="6.2" text-anchor="end" font-weight="bold" font-family="'Liberation Serif', serif">IgG</text><text x="311.9" y="217.06" font-size="5.6" text-anchor="end" font-weight="bold" font-family="'Liberation Serif', serif">0</text><line x1="313" y1="198.16" x2="314.5" y2="198.16" stroke="#555" stroke-width="0.6"/><line x1="312.6" y1="217.16" x2="314.8" y2="217.16" stroke="#333" stroke-width="0.8"/><path d="M316.40,241.64L316.40,240.86L316.90,240.87L317.40,240.89L317.90,240.55L318.00,240.44L318.40,240.33L318.90,240.19L319.40,240.05L319.80,239.94L319.90,239.89L320.40,239.61L320.90,239.34L321.40,239.81L321.90,240.28L322.40,240.76L322.70,241.04L322.90,241.00L323.40,240.91L323.80,240.84L323.90,240.50L324.40,238.82L324.60,238.14L324.90,238.91L325.40,240.18L325.50,240.44L325.90,240.82L326.10,240.91L326.40,241.04L326.90,241.19L327.40,241.15L327.60,241.14L327.90,240.84L328.10,240.64L328.40,235.93L328.80,229.64L328.90,229.29L329.40,227.52L329.90,225.76L330.40,223.99L330.50,223.64L330.90,222.53L331.40,221.13L331.90,219.74L332.40,221.27L332.90,222.80L333.40,224.33L333.60,224.94L333.90,225.13L334.40,225.46L334.90,225.78L335.30,226.04L335.40,226.21L335.90,227.09L336.40,227.96L336.50,228.14L336.90,229.01L337.40,230.10L337.90,231.19L338.20,231.84L338.40,231.20L338.90,229.58L339.40,227.97L339.90,226.36L340.00,226.04L340.40,227.35L340.90,228.99L341.10,229.64L341.40,228.64L341.90,226.97L342.40,225.31L342.60,224.64L342.90,223.69L343.40,222.11L343.80,220.84L343.90,221.24L344.40,223.24L344.90,225.24L345.10,226.04L345.40,225.97L345.90,225.86L346.40,225.75L346.90,225.64L347.40,228.14L347.90,230.64L348.40,233.14L348.60,234.14L348.90,234.33L349.40,234.66L349.90,234.98L350.30,235.24L350.40,235.06L350.90,234.14L351.40,233.22L351.50,233.04L351.90,233.84L352.40,234.84L352.90,235.84L353.20,236.44L353.40,236.15L353.90,235.43L354.40,234.72L354.90,234.00L355.40,233.28L355.90,232.56L356.40,231.84L356.90,233.29L357.40,234.74L357.90,236.19L358.40,237.64L358.90,237.29L359.40,236.93L359.90,236.58L360.10,236.44L360.40,236.60L360.90,236.86L361.40,237.12L361.90,237.38L362.40,237.64L362.90,237.87L363.40,238.10L363.90,238.33L364.40,238.56L364.80,238.74L364.90,238.80L365.40,239.11L365.90,239.41L366.40,239.71L366.90,240.02L367.10,240.14L367.40,240.23L367.90,240.38L368.40,240.54L368.90,240.69L369.40,240.84L369.90,240.97L370.40,241.10L370.90,241.20L371.40,241.28L371.70,241.36L371.90,241.42L372.40,241.56L372.50,241.58L372.90,241.55L373.40,241.32L373.90,241.10L374.40,240.96L374.90,240.94L375.00,240.94L375.40,240.95L375.90,241.04L376.40,240.99L376.90,240.73L377.40,240.83L377.90,241.23L378.40,241.26L378.90,240.94L379.40,240.78L379.90,240.74L380.00,240.74L380.40,240.76L380.90,240.86L381.40,241.01L381.90,240.92L382.40,240.83L382.90,241.06L383.40,241.34L383.90,241.10L384.40,240.94L384.90,240.86L385.40,240.84L385.50,240.84L385.90,240.85L386.40,240.90L386.90,241.03L387.40,241.24L387.90,241.36L388.40,241.23L388.90,241.13L389.40,241.22L389.90,241.31L390.40,240.87L390.90,240.24L391.40,239.93L391.90,239.84L392.00,239.84L392.40,239.87L392.90,240.08L393.40,240.58L393.90,241.42L394.40,241.64L394.90,241.64L395.40,241.26L395.90,240.94L396.40,240.78L396.90,240.74L397.00,240.74L397.40,240.76L397.90,240.86L398.40,241.11L398.90,241.53L399.40,241.64L399.90,241.64L400.40,241.64L400.90,241.40L401.40,240.99L401.90,240.58L402.40,240.53L402.90,240.64L403.00,240.66L403.40,240.75L403.90,240.88L404.40,241.17L404.90,241.54L405.40,241.29L405.90,240.84L406.40,240.89L406.90,241.10L407.40,241.22L407.90,240.83L408.40,240.59L408.90,240.47L409.40,240.44L409.50,240.44L409.90,240.45L410.40,240.53L410.90,240.72L411.40,241.04L411.90,241.05L412.40,240.82L412.90,240.58L413.40,240.56L413.90,240.59L414.40,240.61L414.90,240.65L415.40,240.64L415.50,240.64L415.90,240.65L416.40,240.72L416.90,240.87L417.40,241.14L417.90,241.09L418.40,240.79L418.90,240.56L419.40,240.57L419.90,240.57L420.40,240.60L420.90,240.70L421.40,240.42L421.90,240.28L422.40,240.24L422.50,240.24L422.90,240.25L423.40,240.35L423.90,240.57L424.40,240.94L424.90,240.79L425.40,240.57L425.90,240.82L426.40,241.11L426.90,240.86L427.40,240.69L427.90,240.64L428.00,240.64L428.40,240.66L428.90,240.78L429.40,241.04L429.90,241.21L430.40,241.37L430.90,241.54L431.40,241.11L431.90,240.63L432.40,240.33L432.90,240.18L433.40,240.14L433.50,240.14L433.90,240.16L434.40,240.26L434.90,240.49L435.40,240.90L435.90,240.96L436.40,240.86L436.90,240.90L437.40,241.10L437.90,240.71L438.40,240.50L438.90,240.44L439.00,240.44L439.40,240.46L439.90,240.60L440.40,240.93L440.90,241.50L441.40,240.76L441.90,239.96L442.40,239.46L442.90,239.21L443.40,239.14L443.50,239.14L443.90,239.17L444.40,239.33L444.90,239.73L445.40,240.40L445.90,241.40L446.40,241.13L446.90,240.71L447.40,240.50L447.90,240.44L448.00,240.44L448.40,240.46L448.90,240.60L449.40,240.93L449.90,241.50L450.40,241.64L450.90,241.64L451.40,241.18L451.90,240.77L452.40,240.51L452.90,240.38L453.40,240.34L453.50,240.34L453.90,240.35L454.40,240.44L454.90,240.65L455.40,240.99L455.90,241.51L456.40,241.64L456.90,241.64L457.40,241.21L457.90,240.86L458.40,240.69L458.90,240.64L459.00,240.64L459.40,240.66L459.90,240.78L460.40,241.05L460.90,241.07L461.40,241.04L461.90,241.00L462.40,240.97L462.90,240.63L463.40,240.40L463.90,240.34L464.00,240.34L464.40,240.36L464.90,240.52L465.40,240.87L465.90,241.48L466.40,241.41L466.90,241.27L467.40,241.12L467.90,240.86L468.40,240.69L468.90,240.64L469.00,240.64L469.40,240.66L469.90,240.78L470.40,241.05L470.90,241.42L471.40,241.49L471.90,241.55L472.40,241.62L472.90,241.64L473.40,241.64L473.90,241.56L474.40,241.13L474.90,240.71L475.40,240.50L475.90,240.44L476.00,240.44L476.40,240.46L476.90,240.55L477.40,240.56L477.90,240.88L478.40,241.19L478.90,241.51L479.40,241.00L479.90,240.48L480.40,240.21L480.90,240.14L481.00,240.14L481.40,240.17L481.90,240.34L482.40,240.75L482.90,241.46L483.40,241.10L483.90,240.74L484.00,241.64Z" fill="#4d6b2d"/><text x="313.0" y="227.14" font-size="6.5" text-anchor="end" font-weight="bold" font-family="'Liberation Serif', serif">50</text><text x="300.3" y="235.24" font-size="6.2" text-anchor="end" font-weight="bold" font-family="'Liberation Serif', serif">H3K4me3</text><text x="311.9" y="240.94" font-size="5.6" text-anchor="end" font-weight="bold" font-family="'Liberation Serif', serif">0</text><line x1="313" y1="222.04" x2="314.5" y2="222.04" stroke="#555" stroke-width="0.6"/><line x1="312.6" y1="241.04" x2="314.8" y2="241.04" stroke="#333" stroke-width="0.8"/><text x="314.2" y="250.12" font-size="6.9" text-anchor="end" font-weight="bold" font-family="'Liberation Serif', serif">2500</text><text x="299.6" y="258.32" font-size="6.2" text-anchor="end" font-weight="bold" font-family="'Liberation Serif', serif">miRNA</text><text x="311.8" y="265.32" font-size="6.0" text-anchor="end" font-weight="bold" font-family="'Liberation Serif', serif">0</text><line x1="312.6" y1="265.52" x2="314.8" y2="265.52" stroke="#333" stroke-width="0.8"/><line x1="484.3" y1="242.3" x2="484.3" y2="266" stroke="#aaa" stroke-width="0.9"/><text x="315.4" y="275.2" font-size="6.7" text-anchor="end" font-weight="bold" font-family="'Liberation Serif', serif">hsa-mir-146a</text><path d="M323.3,282.6 L323.3,266.7 L332.5,266.7" fill="none" stroke="#000" stroke-width="1.1"/><path d="M331.2,264.5 L335.8,266.7 L331.2,268.8 Z" fill="#000"/><line x1="322.8" y1="282.3" x2="484.3" y2="282.3" stroke="#000" stroke-width="1.2" stroke-dasharray="3,1.65"/><line x1="484.3" y1="273" x2="484.3" y2="282" stroke="#e03030" stroke-width="0.9"/><text x="263.4" y="308.0" font-size="11" font-weight="bold" font-family="'Liberation Sans', sans-serif">D</text><rect x="324" y="310" width="31" height="9" fill="#f47729"/><rect x="355" y="310" width="30" height="9" fill="#fdd99a"/><rect x="385" y="310" width="31" height="9" fill="#fcd194"/><rect x="416" y="310" width="31" height="9" fill="#fdd99a"/><rect x="447" y="310" width="31" height="9" fill="#fdd99a"/><text x="274.5" y="317.40" font-size="7.8" font-weight="bold" font-family="'Liberation Serif', serif">hsa-mir-126</text><rect x="324" y="319" width="31" height="9" fill="#f47729"/><rect x="355" y="319" width="30" height="9" fill="#fdd99a"/><rect x="385" y="319" width="31" height="9" fill="#fdd99a"/><rect x="416" y="319" width="31" height="9" fill="#fdd99a"/><rect x="447" y="319" width="31" height="9" fill="#fdd99a"/><text x="274.5" y="326.56" font-size="7.8" font-weight="bold" font-family="'Liberation Serif', serif">hsa-mir-146a</text><rect x="324" y="328" width="31" height="9" fill="#f47729"/><rect x="355" y="328" width="30" height="9" fill="#fdd99a"/><rect x="385" y="328" width="31" height="9" fill="#fdd99a"/><rect x="416" y="328" width="31" height="9" fill="#f9a866"/><rect x="447" y="328" width="31" height="9" fill="#fdd99a"/><text x="274.5" y="335.72" font-size="7.8" font-weight="bold" font-family="'Liberation Serif', serif">hsa-mir-92b</text><rect x="324" y="337" width="31" height="9" fill="#f47729"/><rect x="355" y="337" width="30" height="9" fill="#f9a866"/><rect x="385" y="337" width="31" height="9" fill="#f9a866"/><rect x="416" y="337" width="31" height="9" fill="#fdd99a"/><rect x="447" y="337" width="31" height="9" fill="#fdd99a"/><text x="274.5" y="344.88" font-size="7.8" font-weight="bold" font-family="'Liberation Serif', serif">hsa-mir-194-1</text><rect x="324" y="346" width="31" height="9" fill="#fdd99a"/><rect x="355" y="346" width="30" height="9" fill="#f47729"/><rect x="385" y="346" width="31" height="9" fill="#f47729"/><rect x="416" y="346" width="31" height="9" fill="#fdd99a"/><rect x="447" y="346" width="31" height="9" fill="#fdd99a"/><text x="274.5" y="354.04" font-size="7.8" font-weight="bold" font-family="'Liberation Serif', serif">hsa-mir-26a-1</text><rect x="324" y="355" width="31" height="10" fill="#fdd99a"/><rect x="355" y="355" width="30" height="10" fill="#f47729"/><rect x="385" y="355" width="31" height="10" fill="#f9a866"/><rect x="416" y="355" width="31" height="10" fill="#f9a866"/><rect x="447" y="355" width="31" height="10" fill="#fdd99a"/><text x="274.5" y="363.20" font-size="7.8" font-weight="bold" font-family="'Liberation Serif', serif">hsa-mir-200c</text><rect x="324" y="365" width="31" height="9" fill="#fdd99a"/><rect x="355" y="365" width="30" height="9" fill="#f47729"/><rect x="385" y="365" width="31" height="9" fill="#fab274"/><rect x="416" y="365" width="31" height="9" fill="#fdd99a"/><rect x="447" y="365" width="31" height="9" fill="#fdd99a"/><text x="274.5" y="372.36" font-size="7.8" font-weight="bold" font-family="'Liberation Serif', serif">hsa-mir-5196</text><rect x="324" y="374" width="31" height="9" fill="#fdd99a"/><rect x="355" y="374" width="30" height="9" fill="#f9a866"/><rect x="385" y="374" width="31" height="9" fill="#f47729"/><rect x="416" y="374" width="31" height="9" fill="#fdd99a"/><rect x="447" y="374" width="31" height="9" fill="#f9a866"/><text x="274.5" y="381.52" font-size="7.8" font-weight="bold" font-family="'Liberation Serif', serif">hsa-mir-141</text><rect x="324" y="383" width="31" height="9" fill="#fdd99a"/><rect x="355" y="383" width="30" height="9" fill="#f47729"/><rect x="385" y="383" width="31" height="9" fill="#fab274"/><rect x="416" y="383" width="31" height="9" fill="#fcca8b"/><rect x="447" y="383" width="31" height="9" fill="#fcca8b"/><text x="274.5" y="390.68" font-size="7.8" font-weight="bold" font-family="'Liberation Serif', serif">hsa-mir-33b</text><rect x="324" y="392" width="31" height="9" fill="#fdd99a"/><rect x="355" y="392" width="30" height="9" fill="#f47729"/><rect x="385" y="392" width="31" height="9" fill="#fab274"/><rect x="416" y="392" width="31" height="9" fill="#fcca8b"/><rect x="447" y="392" width="31" height="9" fill="#fcca8b"/><text x="274.5" y="399.84" font-size="7.8" font-weight="bold" font-family="'Liberation Serif', serif">hsa-mir-215</text><rect x="324" y="401" width="31" height="9" fill="#fdd99a"/><rect x="355" y="401" width="30" height="9" fill="#fcd194"/><rect x="385" y="401" width="31" height="9" fill="#fcd194"/><rect x="416" y="401" width="31" height="9" fill="#f47729"/><rect x="447" y="401" width="31" height="9" fill="#f99c56"/><text x="274.5" y="409.00" font-size="7.8" font-weight="bold" font-family="'Liberation Serif', serif">hsa-mir-223</text><rect x="324" y="410" width="31" height="10" fill="#fdd99a"/><rect x="355" y="410" width="30" height="10" fill="#fcca8b"/><rect x="385" y="410" width="31" height="10" fill="#fcc470"/><rect x="416" y="410" width="31" height="10" fill="#fbc080"/><rect x="447" y="410" width="31" height="10" fill="#f47729"/><text x="274.5" y="418.16" font-size="7.8" font-weight="bold" font-family="'Liberation Serif', serif">hsa-mir-148b</text><rect x="324" y="420" width="31" height="9" fill="#fdd99a"/><rect x="355" y="420" width="30" height="9" fill="#fcca8b"/><rect x="385" y="420" width="31" height="9" fill="#fcd194"/><rect x="416" y="420" width="31" height="9" fill="#f47729"/><rect x="447" y="420" width="31" height="9" fill="#fcc470"/><text x="274.5" y="427.32" font-size="7.8" font-weight="bold" font-family="'Liberation Serif', serif">hsa-mir-589</text><rect x="324" y="429" width="31" height="9" fill="#fdd99a"/><rect x="355" y="429" width="30" height="9" fill="#f9a866"/><rect x="385" y="429" width="31" height="9" fill="#fcca8b"/><rect x="416" y="429" width="31" height="9" fill="#f47729"/><rect x="447" y="429" width="31" height="9" fill="#fab274"/><text x="274.5" y="436.48" font-size="7.8" font-weight="bold" font-family="'Liberation Serif', serif">hsa-mir-5010</text><text x="338.25" y="302.60" font-size="7.2" text-anchor="middle" font-weight="bold" font-family="'Liberation Serif', serif">CD34</text><text x="367.50" y="298.90" font-size="7.2" text-anchor="middle" font-weight="bold" font-family="'Liberation Serif', serif">CD20</text><text x="367.50" y="307.20" font-size="7.2" text-anchor="middle" font-weight="bold" font-family="'Liberation Serif', serif">REP1</text><text x="397.50" y="300.20" font-size="7.2" text-anchor="middle" font-weight="bold" font-family="'Liberation Serif', serif">CD20</text><text x="397.50" y="308.50" font-size="7.2" text-anchor="middle" font-weight="bold" font-family="'Liberation Serif', serif">REP2</text><text x="426.50" y="298.90" font-size="7.2" text-anchor="middle" font-weight="bold" font-family="'Liberation Serif', serif">CD14</text><text x="426.50" y="307.20" font-size="7.2" text-anchor="middle" font-weight="bold" font-family="'Liberation Serif', serif">REP1</text><text x="458.50" y="298.90" font-size="7.2" text-anchor="middle" font-weight="bold" font-family="'Liberation Serif', serif">CD14</text><text x="458.50" y="307.20" font-size="7.2" text-anchor="middle" font-weight="bold" font-family="'Liberation Serif', serif">REP2</text><rect x="480.3" y="310" width="14.2" height="11" fill="#f36d22"/><rect x="480.3" y="321" width="14.2" height="11" fill="#fbae6c"/><rect x="480.3" y="332" width="14.2" height="11.3" fill="#fdd894"/><text x="495.3" y="318.2" font-size="6.9" font-weight="bold" font-family="'Liberation Serif', serif">high</text><text x="495.3" y="328.3" font-size="6.9" font-weight="bold" font-family="'Liberation Serif', serif">medium</text><text x="495.3" y="340" font-size="6.9" font-weight="bold" font-family="'Liberation Serif', serif">low</text>
</svg>
</body></html>
